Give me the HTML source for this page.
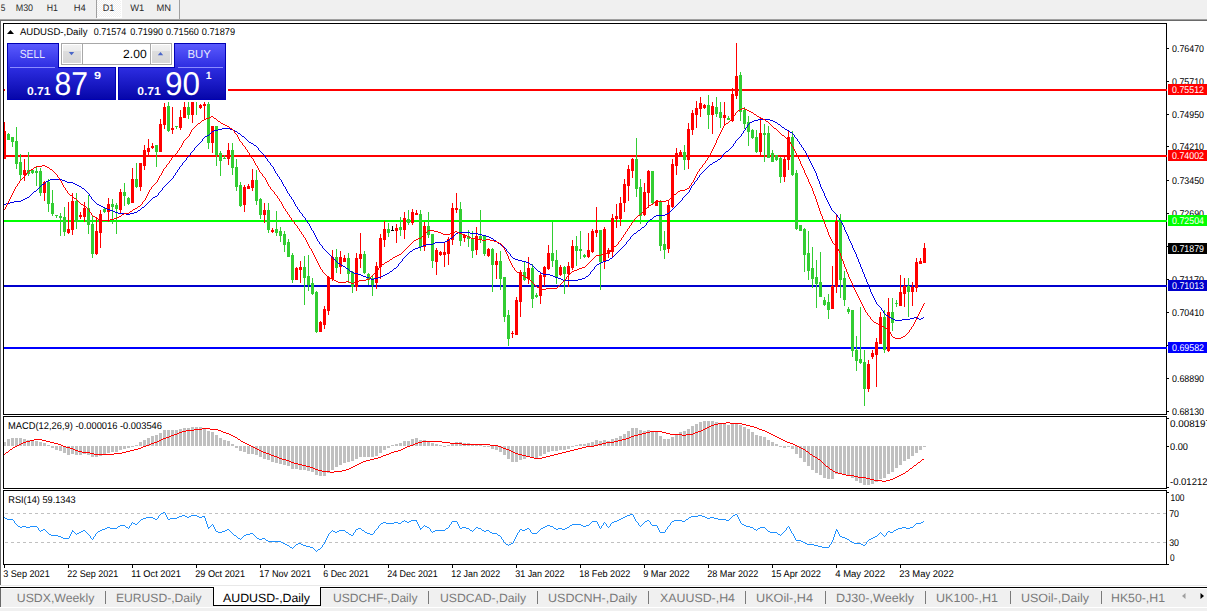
<!DOCTYPE html>
<html><head><meta charset="utf-8"><title>AUDUSD-,Daily</title>
<style>html,body{margin:0;padding:0;background:#fff;overflow:hidden;font-family:"Liberation Sans",sans-serif;} svg{display:block;} text{text-rendering:geometricPrecision;}</style>
</head><body>
<svg width="1207" height="611" viewBox="0 0 1207 611" font-family="Liberation Sans, sans-serif"><rect x="0" y="0" width="1207" height="611" fill="#ffffff"/>
<rect x="0" y="0" width="1207" height="19" fill="#f0f0f0"/>
<rect x="0" y="19" width="1207" height="1" fill="#a0a0a0"/>
<rect x="0" y="20" width="1207" height="1" fill="#696969"/>
<rect x="0" y="20" width="1" height="565" fill="#696969"/>
<g font-family="Liberation Sans" fill="#2b2b2b">
<defs><pattern id="chk" x="0" y="0" width="2" height="2" patternUnits="userSpaceOnUse"><rect width="2" height="2" fill="#f0f0f0"/><rect width="1" height="1" fill="#ffffff"/><rect x="1" y="1" width="1" height="1" fill="#ffffff"/></pattern></defs>
<g shape-rendering="crispEdges">
<rect x="97" y="0" width="24" height="17" fill="url(#chk)"/>
<rect x="96" y="17" width="26" height="1" fill="#ffffff"/>
<rect x="121" y="0" width="1" height="17" fill="#ffffff"/>
</g>
<text x="0.8" y="11" font-size="9.5" fill="#2b2b2b" textLength="4.6" lengthAdjust="spacingAndGlyphs">5</text>
<text x="15.7" y="11" font-size="9.5" fill="#2b2b2b" textLength="17.4" lengthAdjust="spacingAndGlyphs">M30</text>
<text x="46.8" y="11" font-size="9.5" fill="#2b2b2b" textLength="11.2" lengthAdjust="spacingAndGlyphs">H1</text>
<text x="73.7" y="11" font-size="9.5" fill="#2b2b2b" textLength="12" lengthAdjust="spacingAndGlyphs">H4</text>
<text x="102.7" y="11" font-size="9.5" fill="#2b2b2b" textLength="11.6" lengthAdjust="spacingAndGlyphs">D1</text>
<text x="130.2" y="11" font-size="9.5" fill="#2b2b2b" textLength="14" lengthAdjust="spacingAndGlyphs">W1</text>
<text x="156.5" y="11" font-size="9.5" fill="#2b2b2b" textLength="14.5" lengthAdjust="spacingAndGlyphs">MN</text>
</g>
<rect x="96" y="0" width="1" height="18" fill="#a0a0a0"/>
<rect x="179" y="0" width="1" height="19" fill="#a0a0a0"/>
<rect x="3" y="23" width="1164" height="1" fill="#000"/>
<rect x="3" y="414" width="1164" height="1" fill="#000"/>
<rect x="3" y="23" width="1" height="392" fill="#000"/>
<rect x="1166" y="23" width="1" height="392" fill="#000"/>
<rect x="3" y="416" width="1164" height="1" fill="#000"/>
<rect x="3" y="488" width="1164" height="1" fill="#000"/>
<rect x="3" y="416" width="1" height="73" fill="#000"/>
<rect x="1166" y="416" width="1" height="73" fill="#000"/>
<rect x="3" y="490" width="1164" height="1" fill="#000"/>
<rect x="3" y="564" width="1164" height="1" fill="#000"/>
<rect x="3" y="490" width="1" height="75" fill="#000"/>
<rect x="1166" y="490" width="1" height="75" fill="#000"/>
<defs><clipPath id="cm"><rect x="4" y="24" width="1162" height="390"/></clipPath><clipPath id="cmacd"><rect x="4" y="417" width="1162" height="71"/></clipPath><clipPath id="crsi"><rect x="4" y="491" width="1162" height="73"/></clipPath></defs>
<g shape-rendering="crispEdges">
<rect x="4" y="89" width="1163" height="2" fill="#ff0000"/>
<rect x="4" y="155" width="1163" height="2" fill="#ff0000"/>
<rect x="4" y="220" width="1163" height="2" fill="#00ff00"/>
<rect x="4" y="285" width="1163" height="2" fill="#0000cd"/>
<rect x="4" y="347" width="1163" height="2" fill="#0000ff"/>
</g>
<g clip-path="url(#cm)" shape-rendering="crispEdges">
<rect x="4" y="122" width="1" height="37" fill="#ff0000"/>
<rect x="3" y="131" width="3" height="28" fill="#ff0000"/>
<rect x="8" y="133" width="1" height="7" fill="#32cd32"/>
<rect x="7" y="134" width="3" height="6" fill="#32cd32"/>
<rect x="12" y="137" width="1" height="10" fill="#32cd32"/>
<rect x="11" y="137" width="3" height="5" fill="#32cd32"/>
<rect x="16" y="127" width="1" height="42" fill="#32cd32"/>
<rect x="15" y="141" width="3" height="23" fill="#32cd32"/>
<rect x="20" y="154" width="1" height="27" fill="#32cd32"/>
<rect x="19" y="162" width="3" height="13" fill="#32cd32"/>
<rect x="24" y="159" width="1" height="22" fill="#ff0000"/>
<rect x="23" y="170" width="3" height="5" fill="#ff0000"/>
<rect x="28" y="152" width="1" height="24" fill="#32cd32"/>
<rect x="27" y="170" width="3" height="4" fill="#32cd32"/>
<rect x="32" y="170" width="1" height="4" fill="#32cd32"/>
<rect x="31" y="170" width="3" height="3" fill="#32cd32"/>
<rect x="36" y="167" width="1" height="19" fill="#32cd32"/>
<rect x="35" y="171" width="3" height="2" fill="#32cd32"/>
<rect x="40" y="168" width="1" height="28" fill="#32cd32"/>
<rect x="39" y="171" width="3" height="22" fill="#32cd32"/>
<rect x="44" y="181" width="1" height="20" fill="#ff0000"/>
<rect x="43" y="182" width="3" height="11" fill="#ff0000"/>
<rect x="48" y="179" width="1" height="33" fill="#32cd32"/>
<rect x="47" y="182" width="3" height="22" fill="#32cd32"/>
<rect x="52" y="190" width="1" height="26" fill="#32cd32"/>
<rect x="51" y="203" width="3" height="11" fill="#32cd32"/>
<rect x="56" y="215" width="1" height="3" fill="#32cd32"/>
<rect x="55" y="215" width="3" height="1" fill="#32cd32"/>
<rect x="60" y="213" width="1" height="23" fill="#32cd32"/>
<rect x="59" y="216" width="3" height="2" fill="#32cd32"/>
<rect x="64" y="207" width="1" height="29" fill="#32cd32"/>
<rect x="63" y="217" width="3" height="15" fill="#32cd32"/>
<rect x="68" y="202" width="1" height="32" fill="#ff0000"/>
<rect x="67" y="229" width="3" height="4" fill="#ff0000"/>
<rect x="72" y="193" width="1" height="42" fill="#ff0000"/>
<rect x="71" y="201" width="3" height="29" fill="#ff0000"/>
<rect x="76" y="193" width="1" height="36" fill="#32cd32"/>
<rect x="75" y="201" width="3" height="21" fill="#32cd32"/>
<rect x="80" y="212" width="1" height="7" fill="#ff0000"/>
<rect x="79" y="215" width="3" height="2" fill="#ff0000"/>
<rect x="84" y="202" width="1" height="20" fill="#ff0000"/>
<rect x="83" y="208" width="3" height="9" fill="#ff0000"/>
<rect x="88" y="195" width="1" height="39" fill="#32cd32"/>
<rect x="87" y="208" width="3" height="17" fill="#32cd32"/>
<rect x="92" y="215" width="1" height="43" fill="#32cd32"/>
<rect x="91" y="224" width="3" height="30" fill="#32cd32"/>
<rect x="96" y="217" width="1" height="38" fill="#ff0000"/>
<rect x="95" y="231" width="3" height="23" fill="#ff0000"/>
<rect x="100" y="210" width="1" height="38" fill="#ff0000"/>
<rect x="99" y="214" width="3" height="19" fill="#ff0000"/>
<rect x="104" y="208" width="1" height="5" fill="#32cd32"/>
<rect x="103" y="209" width="3" height="3" fill="#32cd32"/>
<rect x="108" y="198" width="1" height="24" fill="#ff0000"/>
<rect x="107" y="204" width="3" height="8" fill="#ff0000"/>
<rect x="112" y="199" width="1" height="25" fill="#32cd32"/>
<rect x="111" y="204" width="3" height="3" fill="#32cd32"/>
<rect x="116" y="203" width="1" height="31" fill="#32cd32"/>
<rect x="115" y="205" width="3" height="4" fill="#32cd32"/>
<rect x="120" y="189" width="1" height="25" fill="#ff0000"/>
<rect x="119" y="192" width="3" height="18" fill="#ff0000"/>
<rect x="124" y="183" width="1" height="23" fill="#32cd32"/>
<rect x="123" y="192" width="3" height="4" fill="#32cd32"/>
<rect x="128" y="197" width="1" height="8" fill="#32cd32"/>
<rect x="127" y="198" width="3" height="6" fill="#32cd32"/>
<rect x="132" y="168" width="1" height="35" fill="#ff0000"/>
<rect x="131" y="179" width="3" height="24" fill="#ff0000"/>
<rect x="136" y="163" width="1" height="25" fill="#32cd32"/>
<rect x="135" y="179" width="3" height="8" fill="#32cd32"/>
<rect x="140" y="163" width="1" height="28" fill="#ff0000"/>
<rect x="139" y="163" width="3" height="24" fill="#ff0000"/>
<rect x="144" y="145" width="1" height="25" fill="#ff0000"/>
<rect x="143" y="150" width="3" height="16" fill="#ff0000"/>
<rect x="148" y="139" width="1" height="17" fill="#ff0000"/>
<rect x="147" y="148" width="3" height="4" fill="#ff0000"/>
<rect x="152" y="143" width="1" height="6" fill="#ff0000"/>
<rect x="151" y="146" width="3" height="2" fill="#ff0000"/>
<rect x="156" y="145" width="1" height="22" fill="#32cd32"/>
<rect x="155" y="145" width="3" height="7" fill="#32cd32"/>
<rect x="160" y="119" width="1" height="33" fill="#ff0000"/>
<rect x="159" y="124" width="3" height="28" fill="#ff0000"/>
<rect x="164" y="103" width="1" height="26" fill="#ff0000"/>
<rect x="163" y="107" width="3" height="18" fill="#ff0000"/>
<rect x="168" y="102" width="1" height="30" fill="#32cd32"/>
<rect x="167" y="106" width="3" height="25" fill="#32cd32"/>
<rect x="172" y="107" width="1" height="27" fill="#ff0000"/>
<rect x="171" y="128" width="3" height="2" fill="#ff0000"/>
<rect x="176" y="126" width="1" height="3" fill="#32cd32"/>
<rect x="175" y="126" width="3" height="1" fill="#32cd32"/>
<rect x="180" y="110" width="1" height="20" fill="#ff0000"/>
<rect x="179" y="117" width="3" height="11" fill="#ff0000"/>
<rect x="184" y="102" width="1" height="16" fill="#ff0000"/>
<rect x="183" y="107" width="3" height="11" fill="#ff0000"/>
<rect x="188" y="102" width="1" height="17" fill="#32cd32"/>
<rect x="187" y="107" width="3" height="8" fill="#32cd32"/>
<rect x="192" y="98" width="1" height="25" fill="#ff0000"/>
<rect x="191" y="100" width="3" height="15" fill="#ff0000"/>
<rect x="196" y="100" width="1" height="15" fill="#32cd32"/>
<rect x="195" y="100" width="3" height="2" fill="#32cd32"/>
<rect x="200" y="104" width="1" height="5" fill="#ff0000"/>
<rect x="199" y="105" width="3" height="3" fill="#ff0000"/>
<rect x="204" y="102" width="1" height="18" fill="#ff0000"/>
<rect x="203" y="104" width="3" height="2" fill="#ff0000"/>
<rect x="208" y="102" width="1" height="47" fill="#32cd32"/>
<rect x="207" y="104" width="3" height="39" fill="#32cd32"/>
<rect x="212" y="126" width="1" height="27" fill="#ff0000"/>
<rect x="211" y="126" width="3" height="17" fill="#ff0000"/>
<rect x="216" y="126" width="1" height="40" fill="#32cd32"/>
<rect x="215" y="126" width="3" height="29" fill="#32cd32"/>
<rect x="220" y="151" width="1" height="25" fill="#32cd32"/>
<rect x="219" y="153" width="3" height="8" fill="#32cd32"/>
<rect x="224" y="155" width="1" height="4" fill="#32cd32"/>
<rect x="223" y="158" width="3" height="1" fill="#32cd32"/>
<rect x="228" y="143" width="1" height="22" fill="#ff0000"/>
<rect x="227" y="150" width="3" height="9" fill="#ff0000"/>
<rect x="232" y="143" width="1" height="32" fill="#32cd32"/>
<rect x="231" y="150" width="3" height="18" fill="#32cd32"/>
<rect x="236" y="159" width="1" height="32" fill="#32cd32"/>
<rect x="235" y="167" width="3" height="20" fill="#32cd32"/>
<rect x="240" y="182" width="1" height="25" fill="#32cd32"/>
<rect x="239" y="185" width="3" height="21" fill="#32cd32"/>
<rect x="244" y="185" width="1" height="27" fill="#ff0000"/>
<rect x="243" y="187" width="3" height="18" fill="#ff0000"/>
<rect x="248" y="184" width="1" height="5" fill="#ff0000"/>
<rect x="247" y="186" width="3" height="3" fill="#ff0000"/>
<rect x="252" y="169" width="1" height="22" fill="#ff0000"/>
<rect x="251" y="180" width="3" height="8" fill="#ff0000"/>
<rect x="256" y="170" width="1" height="35" fill="#32cd32"/>
<rect x="255" y="180" width="3" height="21" fill="#32cd32"/>
<rect x="260" y="198" width="1" height="21" fill="#32cd32"/>
<rect x="259" y="199" width="3" height="16" fill="#32cd32"/>
<rect x="264" y="203" width="1" height="20" fill="#ff0000"/>
<rect x="263" y="210" width="3" height="5" fill="#ff0000"/>
<rect x="268" y="203" width="1" height="30" fill="#32cd32"/>
<rect x="267" y="210" width="3" height="20" fill="#32cd32"/>
<rect x="272" y="228" width="1" height="5" fill="#ff0000"/>
<rect x="271" y="230" width="3" height="2" fill="#ff0000"/>
<rect x="276" y="211" width="1" height="25" fill="#32cd32"/>
<rect x="275" y="229" width="3" height="4" fill="#32cd32"/>
<rect x="280" y="227" width="1" height="15" fill="#32cd32"/>
<rect x="279" y="231" width="3" height="5" fill="#32cd32"/>
<rect x="284" y="231" width="1" height="21" fill="#32cd32"/>
<rect x="283" y="234" width="3" height="11" fill="#32cd32"/>
<rect x="288" y="239" width="1" height="18" fill="#32cd32"/>
<rect x="287" y="242" width="3" height="15" fill="#32cd32"/>
<rect x="292" y="253" width="1" height="30" fill="#32cd32"/>
<rect x="291" y="255" width="3" height="25" fill="#32cd32"/>
<rect x="296" y="267" width="1" height="13" fill="#ff0000"/>
<rect x="295" y="268" width="3" height="12" fill="#ff0000"/>
<rect x="300" y="261" width="1" height="22" fill="#ff0000"/>
<rect x="299" y="267" width="3" height="3" fill="#ff0000"/>
<rect x="304" y="256" width="1" height="49" fill="#32cd32"/>
<rect x="303" y="267" width="3" height="11" fill="#32cd32"/>
<rect x="308" y="255" width="1" height="36" fill="#32cd32"/>
<rect x="307" y="276" width="3" height="9" fill="#32cd32"/>
<rect x="312" y="278" width="1" height="17" fill="#32cd32"/>
<rect x="311" y="283" width="3" height="11" fill="#32cd32"/>
<rect x="316" y="291" width="1" height="42" fill="#32cd32"/>
<rect x="315" y="292" width="3" height="40" fill="#32cd32"/>
<rect x="320" y="321" width="1" height="11" fill="#ff0000"/>
<rect x="319" y="322" width="3" height="10" fill="#ff0000"/>
<rect x="324" y="306" width="1" height="23" fill="#ff0000"/>
<rect x="323" y="309" width="3" height="16" fill="#ff0000"/>
<rect x="328" y="276" width="1" height="39" fill="#ff0000"/>
<rect x="327" y="277" width="3" height="34" fill="#ff0000"/>
<rect x="332" y="250" width="1" height="31" fill="#ff0000"/>
<rect x="331" y="257" width="3" height="22" fill="#ff0000"/>
<rect x="336" y="249" width="1" height="24" fill="#32cd32"/>
<rect x="335" y="257" width="3" height="11" fill="#32cd32"/>
<rect x="340" y="251" width="1" height="23" fill="#ff0000"/>
<rect x="339" y="257" width="3" height="10" fill="#ff0000"/>
<rect x="344" y="255" width="1" height="7" fill="#ff0000"/>
<rect x="343" y="258" width="3" height="4" fill="#ff0000"/>
<rect x="348" y="253" width="1" height="30" fill="#32cd32"/>
<rect x="347" y="258" width="3" height="16" fill="#32cd32"/>
<rect x="352" y="271" width="1" height="22" fill="#32cd32"/>
<rect x="351" y="272" width="3" height="15" fill="#32cd32"/>
<rect x="356" y="253" width="1" height="38" fill="#ff0000"/>
<rect x="355" y="258" width="3" height="29" fill="#ff0000"/>
<rect x="360" y="233" width="1" height="35" fill="#ff0000"/>
<rect x="359" y="254" width="3" height="5" fill="#ff0000"/>
<rect x="364" y="251" width="1" height="23" fill="#32cd32"/>
<rect x="363" y="254" width="3" height="19" fill="#32cd32"/>
<rect x="368" y="273" width="1" height="12" fill="#32cd32"/>
<rect x="367" y="274" width="3" height="6" fill="#32cd32"/>
<rect x="372" y="275" width="1" height="21" fill="#32cd32"/>
<rect x="371" y="278" width="3" height="7" fill="#32cd32"/>
<rect x="376" y="262" width="1" height="27" fill="#ff0000"/>
<rect x="375" y="266" width="3" height="17" fill="#ff0000"/>
<rect x="380" y="234" width="1" height="45" fill="#ff0000"/>
<rect x="379" y="238" width="3" height="29" fill="#ff0000"/>
<rect x="384" y="221" width="1" height="26" fill="#ff0000"/>
<rect x="383" y="229" width="3" height="11" fill="#ff0000"/>
<rect x="388" y="223" width="1" height="14" fill="#32cd32"/>
<rect x="387" y="229" width="3" height="4" fill="#32cd32"/>
<rect x="392" y="226" width="1" height="5" fill="#000000"/>
<rect x="391" y="230" width="3" height="1" fill="#000000"/>
<rect x="396" y="224" width="1" height="19" fill="#ff0000"/>
<rect x="395" y="228" width="3" height="3" fill="#ff0000"/>
<rect x="400" y="217" width="1" height="19" fill="#32cd32"/>
<rect x="399" y="227" width="3" height="3" fill="#32cd32"/>
<rect x="404" y="212" width="1" height="27" fill="#ff0000"/>
<rect x="403" y="218" width="3" height="12" fill="#ff0000"/>
<rect x="408" y="210" width="1" height="15" fill="#32cd32"/>
<rect x="407" y="219" width="3" height="4" fill="#32cd32"/>
<rect x="412" y="209" width="1" height="16" fill="#ff0000"/>
<rect x="411" y="212" width="3" height="11" fill="#ff0000"/>
<rect x="416" y="210" width="1" height="5" fill="#ff0000"/>
<rect x="415" y="213" width="3" height="2" fill="#ff0000"/>
<rect x="420" y="210" width="1" height="41" fill="#32cd32"/>
<rect x="419" y="214" width="3" height="33" fill="#32cd32"/>
<rect x="424" y="222" width="1" height="29" fill="#ff0000"/>
<rect x="423" y="226" width="3" height="21" fill="#ff0000"/>
<rect x="428" y="212" width="1" height="26" fill="#32cd32"/>
<rect x="427" y="226" width="3" height="9" fill="#32cd32"/>
<rect x="432" y="234" width="1" height="34" fill="#32cd32"/>
<rect x="431" y="234" width="3" height="27" fill="#32cd32"/>
<rect x="436" y="248" width="1" height="27" fill="#ff0000"/>
<rect x="435" y="250" width="3" height="12" fill="#ff0000"/>
<rect x="440" y="251" width="1" height="5" fill="#ff0000"/>
<rect x="439" y="252" width="3" height="3" fill="#ff0000"/>
<rect x="444" y="242" width="1" height="25" fill="#ff0000"/>
<rect x="443" y="252" width="3" height="3" fill="#ff0000"/>
<rect x="448" y="237" width="1" height="28" fill="#ff0000"/>
<rect x="447" y="239" width="3" height="15" fill="#ff0000"/>
<rect x="452" y="203" width="1" height="42" fill="#ff0000"/>
<rect x="451" y="208" width="3" height="32" fill="#ff0000"/>
<rect x="456" y="193" width="1" height="20" fill="#ff0000"/>
<rect x="455" y="208" width="3" height="2" fill="#ff0000"/>
<rect x="460" y="202" width="1" height="44" fill="#32cd32"/>
<rect x="459" y="209" width="3" height="32" fill="#32cd32"/>
<rect x="464" y="234" width="1" height="8" fill="#ff0000"/>
<rect x="463" y="235" width="3" height="3" fill="#ff0000"/>
<rect x="468" y="230" width="1" height="17" fill="#32cd32"/>
<rect x="467" y="236" width="3" height="3" fill="#32cd32"/>
<rect x="472" y="231" width="1" height="27" fill="#32cd32"/>
<rect x="471" y="238" width="3" height="13" fill="#32cd32"/>
<rect x="476" y="227" width="1" height="28" fill="#ff0000"/>
<rect x="475" y="236" width="3" height="14" fill="#ff0000"/>
<rect x="480" y="210" width="1" height="33" fill="#32cd32"/>
<rect x="479" y="236" width="3" height="3" fill="#32cd32"/>
<rect x="484" y="235" width="1" height="21" fill="#32cd32"/>
<rect x="483" y="236" width="3" height="18" fill="#32cd32"/>
<rect x="488" y="248" width="1" height="9" fill="#ff0000"/>
<rect x="487" y="249" width="3" height="7" fill="#ff0000"/>
<rect x="492" y="248" width="1" height="44" fill="#32cd32"/>
<rect x="491" y="249" width="3" height="16" fill="#32cd32"/>
<rect x="496" y="253" width="1" height="26" fill="#ff0000"/>
<rect x="495" y="261" width="3" height="4" fill="#ff0000"/>
<rect x="500" y="251" width="1" height="39" fill="#32cd32"/>
<rect x="499" y="261" width="3" height="18" fill="#32cd32"/>
<rect x="504" y="277" width="1" height="45" fill="#32cd32"/>
<rect x="503" y="277" width="3" height="40" fill="#32cd32"/>
<rect x="508" y="310" width="1" height="36" fill="#32cd32"/>
<rect x="507" y="315" width="3" height="24" fill="#32cd32"/>
<rect x="512" y="331" width="1" height="7" fill="#ff0000"/>
<rect x="511" y="333" width="3" height="1" fill="#ff0000"/>
<rect x="516" y="297" width="1" height="38" fill="#ff0000"/>
<rect x="515" y="300" width="3" height="35" fill="#ff0000"/>
<rect x="520" y="270" width="1" height="47" fill="#ff0000"/>
<rect x="519" y="272" width="3" height="30" fill="#ff0000"/>
<rect x="524" y="261" width="1" height="20" fill="#32cd32"/>
<rect x="523" y="272" width="3" height="8" fill="#32cd32"/>
<rect x="528" y="257" width="1" height="27" fill="#ff0000"/>
<rect x="527" y="268" width="3" height="11" fill="#ff0000"/>
<rect x="532" y="264" width="1" height="44" fill="#32cd32"/>
<rect x="531" y="268" width="3" height="31" fill="#32cd32"/>
<rect x="536" y="293" width="1" height="5" fill="#32cd32"/>
<rect x="535" y="295" width="3" height="2" fill="#32cd32"/>
<rect x="540" y="273" width="1" height="31" fill="#ff0000"/>
<rect x="539" y="275" width="3" height="21" fill="#ff0000"/>
<rect x="544" y="266" width="1" height="20" fill="#ff0000"/>
<rect x="543" y="267" width="3" height="10" fill="#ff0000"/>
<rect x="548" y="245" width="1" height="25" fill="#ff0000"/>
<rect x="547" y="253" width="3" height="16" fill="#ff0000"/>
<rect x="552" y="222" width="1" height="45" fill="#32cd32"/>
<rect x="551" y="253" width="3" height="8" fill="#32cd32"/>
<rect x="556" y="250" width="1" height="34" fill="#32cd32"/>
<rect x="555" y="260" width="3" height="18" fill="#32cd32"/>
<rect x="560" y="265" width="1" height="11" fill="#ff0000"/>
<rect x="559" y="267" width="3" height="8" fill="#ff0000"/>
<rect x="564" y="266" width="1" height="28" fill="#32cd32"/>
<rect x="563" y="267" width="3" height="7" fill="#32cd32"/>
<rect x="568" y="262" width="1" height="25" fill="#ff0000"/>
<rect x="567" y="266" width="3" height="8" fill="#ff0000"/>
<rect x="572" y="240" width="1" height="30" fill="#ff0000"/>
<rect x="571" y="246" width="3" height="22" fill="#ff0000"/>
<rect x="576" y="236" width="1" height="30" fill="#32cd32"/>
<rect x="575" y="246" width="3" height="5" fill="#32cd32"/>
<rect x="580" y="231" width="1" height="28" fill="#32cd32"/>
<rect x="579" y="249" width="3" height="2" fill="#32cd32"/>
<rect x="584" y="254" width="1" height="4" fill="#32cd32"/>
<rect x="583" y="255" width="3" height="2" fill="#32cd32"/>
<rect x="588" y="233" width="1" height="25" fill="#ff0000"/>
<rect x="587" y="250" width="3" height="7" fill="#ff0000"/>
<rect x="592" y="229" width="1" height="24" fill="#ff0000"/>
<rect x="591" y="231" width="3" height="21" fill="#ff0000"/>
<rect x="596" y="207" width="1" height="30" fill="#ff0000"/>
<rect x="595" y="230" width="3" height="3" fill="#ff0000"/>
<rect x="600" y="230" width="1" height="60" fill="#32cd32"/>
<rect x="599" y="230" width="3" height="32" fill="#32cd32"/>
<rect x="604" y="227" width="1" height="42" fill="#ff0000"/>
<rect x="603" y="229" width="3" height="32" fill="#ff0000"/>
<rect x="608" y="248" width="1" height="10" fill="#ff0000"/>
<rect x="607" y="250" width="3" height="4" fill="#ff0000"/>
<rect x="612" y="214" width="1" height="44" fill="#ff0000"/>
<rect x="611" y="218" width="3" height="34" fill="#ff0000"/>
<rect x="616" y="204" width="1" height="24" fill="#ff0000"/>
<rect x="615" y="216" width="3" height="3" fill="#ff0000"/>
<rect x="620" y="197" width="1" height="29" fill="#ff0000"/>
<rect x="619" y="203" width="3" height="16" fill="#ff0000"/>
<rect x="624" y="179" width="1" height="33" fill="#ff0000"/>
<rect x="623" y="184" width="3" height="19" fill="#ff0000"/>
<rect x="628" y="165" width="1" height="36" fill="#ff0000"/>
<rect x="627" y="169" width="3" height="17" fill="#ff0000"/>
<rect x="632" y="158" width="1" height="20" fill="#ff0000"/>
<rect x="631" y="159" width="3" height="12" fill="#ff0000"/>
<rect x="636" y="138" width="1" height="59" fill="#32cd32"/>
<rect x="635" y="159" width="3" height="30" fill="#32cd32"/>
<rect x="640" y="179" width="1" height="45" fill="#32cd32"/>
<rect x="639" y="187" width="3" height="29" fill="#32cd32"/>
<rect x="644" y="183" width="1" height="33" fill="#ff0000"/>
<rect x="643" y="192" width="3" height="23" fill="#ff0000"/>
<rect x="648" y="170" width="1" height="38" fill="#ff0000"/>
<rect x="647" y="171" width="3" height="22" fill="#ff0000"/>
<rect x="652" y="171" width="1" height="33" fill="#32cd32"/>
<rect x="651" y="171" width="3" height="32" fill="#32cd32"/>
<rect x="656" y="200" width="1" height="6" fill="#ff0000"/>
<rect x="655" y="201" width="3" height="5" fill="#ff0000"/>
<rect x="660" y="200" width="1" height="51" fill="#32cd32"/>
<rect x="659" y="201" width="3" height="45" fill="#32cd32"/>
<rect x="664" y="231" width="1" height="28" fill="#32cd32"/>
<rect x="663" y="244" width="3" height="6" fill="#32cd32"/>
<rect x="668" y="200" width="1" height="53" fill="#ff0000"/>
<rect x="667" y="205" width="3" height="44" fill="#ff0000"/>
<rect x="672" y="159" width="1" height="49" fill="#ff0000"/>
<rect x="671" y="164" width="3" height="43" fill="#ff0000"/>
<rect x="676" y="148" width="1" height="27" fill="#ff0000"/>
<rect x="675" y="153" width="3" height="13" fill="#ff0000"/>
<rect x="680" y="150" width="1" height="6" fill="#ff0000"/>
<rect x="679" y="152" width="3" height="3" fill="#ff0000"/>
<rect x="684" y="145" width="1" height="25" fill="#32cd32"/>
<rect x="683" y="152" width="3" height="8" fill="#32cd32"/>
<rect x="688" y="123" width="1" height="46" fill="#ff0000"/>
<rect x="687" y="129" width="3" height="31" fill="#ff0000"/>
<rect x="692" y="110" width="1" height="25" fill="#ff0000"/>
<rect x="691" y="113" width="3" height="17" fill="#ff0000"/>
<rect x="696" y="101" width="1" height="27" fill="#ff0000"/>
<rect x="695" y="108" width="3" height="7" fill="#ff0000"/>
<rect x="700" y="97" width="1" height="20" fill="#ff0000"/>
<rect x="699" y="103" width="3" height="6" fill="#ff0000"/>
<rect x="704" y="104" width="1" height="5" fill="#ff0000"/>
<rect x="703" y="105" width="3" height="3" fill="#ff0000"/>
<rect x="708" y="95" width="1" height="34" fill="#32cd32"/>
<rect x="707" y="105" width="3" height="10" fill="#32cd32"/>
<rect x="712" y="102" width="1" height="32" fill="#ff0000"/>
<rect x="711" y="106" width="3" height="9" fill="#ff0000"/>
<rect x="716" y="97" width="1" height="20" fill="#32cd32"/>
<rect x="715" y="107" width="3" height="7" fill="#32cd32"/>
<rect x="720" y="102" width="1" height="26" fill="#32cd32"/>
<rect x="719" y="112" width="3" height="6" fill="#32cd32"/>
<rect x="724" y="102" width="1" height="24" fill="#ff0000"/>
<rect x="723" y="115" width="3" height="3" fill="#ff0000"/>
<rect x="728" y="116" width="1" height="4" fill="#32cd32"/>
<rect x="727" y="118" width="3" height="2" fill="#32cd32"/>
<rect x="732" y="88" width="1" height="34" fill="#ff0000"/>
<rect x="731" y="94" width="3" height="27" fill="#ff0000"/>
<rect x="736" y="43" width="1" height="56" fill="#ff0000"/>
<rect x="735" y="76" width="3" height="20" fill="#ff0000"/>
<rect x="740" y="72" width="1" height="49" fill="#32cd32"/>
<rect x="739" y="75" width="3" height="37" fill="#32cd32"/>
<rect x="744" y="107" width="1" height="22" fill="#32cd32"/>
<rect x="743" y="110" width="3" height="14" fill="#32cd32"/>
<rect x="748" y="116" width="1" height="30" fill="#32cd32"/>
<rect x="747" y="122" width="3" height="10" fill="#32cd32"/>
<rect x="752" y="129" width="1" height="10" fill="#32cd32"/>
<rect x="751" y="130" width="3" height="8" fill="#32cd32"/>
<rect x="756" y="130" width="1" height="23" fill="#32cd32"/>
<rect x="755" y="137" width="3" height="15" fill="#32cd32"/>
<rect x="760" y="117" width="1" height="39" fill="#ff0000"/>
<rect x="759" y="133" width="3" height="19" fill="#ff0000"/>
<rect x="764" y="124" width="1" height="38" fill="#32cd32"/>
<rect x="763" y="133" width="3" height="2" fill="#32cd32"/>
<rect x="768" y="126" width="1" height="32" fill="#32cd32"/>
<rect x="767" y="133" width="3" height="25" fill="#32cd32"/>
<rect x="772" y="150" width="1" height="12" fill="#32cd32"/>
<rect x="771" y="153" width="3" height="9" fill="#32cd32"/>
<rect x="776" y="155" width="1" height="6" fill="#32cd32"/>
<rect x="775" y="155" width="3" height="5" fill="#32cd32"/>
<rect x="780" y="157" width="1" height="26" fill="#32cd32"/>
<rect x="779" y="158" width="3" height="19" fill="#32cd32"/>
<rect x="784" y="157" width="1" height="25" fill="#ff0000"/>
<rect x="783" y="159" width="3" height="18" fill="#ff0000"/>
<rect x="788" y="131" width="1" height="39" fill="#ff0000"/>
<rect x="787" y="137" width="3" height="23" fill="#ff0000"/>
<rect x="792" y="131" width="1" height="45" fill="#32cd32"/>
<rect x="791" y="137" width="3" height="38" fill="#32cd32"/>
<rect x="796" y="170" width="1" height="60" fill="#32cd32"/>
<rect x="795" y="173" width="3" height="56" fill="#32cd32"/>
<rect x="800" y="225" width="1" height="6" fill="#32cd32"/>
<rect x="799" y="225" width="3" height="6" fill="#32cd32"/>
<rect x="804" y="228" width="1" height="44" fill="#32cd32"/>
<rect x="803" y="229" width="3" height="26" fill="#32cd32"/>
<rect x="808" y="231" width="1" height="49" fill="#32cd32"/>
<rect x="807" y="253" width="3" height="18" fill="#32cd32"/>
<rect x="812" y="247" width="1" height="41" fill="#32cd32"/>
<rect x="811" y="268" width="3" height="11" fill="#32cd32"/>
<rect x="816" y="260" width="1" height="48" fill="#32cd32"/>
<rect x="815" y="277" width="3" height="7" fill="#32cd32"/>
<rect x="820" y="252" width="1" height="45" fill="#32cd32"/>
<rect x="819" y="282" width="3" height="15" fill="#32cd32"/>
<rect x="824" y="297" width="1" height="9" fill="#32cd32"/>
<rect x="823" y="300" width="3" height="5" fill="#32cd32"/>
<rect x="828" y="294" width="1" height="25" fill="#32cd32"/>
<rect x="827" y="302" width="3" height="8" fill="#32cd32"/>
<rect x="832" y="266" width="1" height="43" fill="#ff0000"/>
<rect x="831" y="286" width="3" height="23" fill="#ff0000"/>
<rect x="836" y="215" width="1" height="78" fill="#ff0000"/>
<rect x="835" y="221" width="3" height="66" fill="#ff0000"/>
<rect x="840" y="214" width="1" height="84" fill="#32cd32"/>
<rect x="839" y="221" width="3" height="59" fill="#32cd32"/>
<rect x="844" y="271" width="1" height="35" fill="#32cd32"/>
<rect x="843" y="278" width="3" height="22" fill="#32cd32"/>
<rect x="848" y="307" width="1" height="7" fill="#32cd32"/>
<rect x="847" y="309" width="3" height="3" fill="#32cd32"/>
<rect x="852" y="310" width="1" height="47" fill="#32cd32"/>
<rect x="851" y="310" width="3" height="41" fill="#32cd32"/>
<rect x="856" y="336" width="1" height="35" fill="#32cd32"/>
<rect x="855" y="350" width="3" height="11" fill="#32cd32"/>
<rect x="860" y="307" width="1" height="57" fill="#32cd32"/>
<rect x="859" y="359" width="3" height="4" fill="#32cd32"/>
<rect x="864" y="350" width="1" height="56" fill="#32cd32"/>
<rect x="863" y="362" width="3" height="27" fill="#32cd32"/>
<rect x="868" y="360" width="1" height="32" fill="#ff0000"/>
<rect x="867" y="364" width="3" height="25" fill="#ff0000"/>
<rect x="872" y="350" width="1" height="9" fill="#ff0000"/>
<rect x="871" y="353" width="3" height="4" fill="#ff0000"/>
<rect x="876" y="338" width="1" height="49" fill="#ff0000"/>
<rect x="875" y="342" width="3" height="13" fill="#ff0000"/>
<rect x="880" y="312" width="1" height="32" fill="#ff0000"/>
<rect x="879" y="317" width="3" height="27" fill="#ff0000"/>
<rect x="884" y="310" width="1" height="43" fill="#32cd32"/>
<rect x="883" y="317" width="3" height="33" fill="#32cd32"/>
<rect x="888" y="298" width="1" height="54" fill="#ff0000"/>
<rect x="887" y="312" width="3" height="39" fill="#ff0000"/>
<rect x="892" y="298" width="1" height="33" fill="#32cd32"/>
<rect x="891" y="312" width="3" height="11" fill="#32cd32"/>
<rect x="896" y="300" width="1" height="7" fill="#32cd32"/>
<rect x="895" y="303" width="3" height="1" fill="#32cd32"/>
<rect x="900" y="275" width="1" height="31" fill="#ff0000"/>
<rect x="899" y="292" width="3" height="14" fill="#ff0000"/>
<rect x="904" y="278" width="1" height="29" fill="#ff0000"/>
<rect x="903" y="286" width="3" height="8" fill="#ff0000"/>
<rect x="908" y="278" width="1" height="39" fill="#32cd32"/>
<rect x="907" y="286" width="3" height="6" fill="#32cd32"/>
<rect x="912" y="282" width="1" height="24" fill="#ff0000"/>
<rect x="911" y="287" width="3" height="5" fill="#ff0000"/>
<rect x="916" y="258" width="1" height="34" fill="#ff0000"/>
<rect x="915" y="262" width="3" height="26" fill="#ff0000"/>
<rect x="920" y="258" width="1" height="6" fill="#ff0000"/>
<rect x="919" y="261" width="3" height="3" fill="#ff0000"/>
<rect x="924" y="243" width="1" height="20" fill="#ff0000"/>
<rect x="923" y="248" width="3" height="15" fill="#ff0000"/>
</g>
<path d="M758 119h12v1h-12zM754 120h4v1h-4zM770 120h3v1h-3zM752 121h2v1h-2zM773 121h2v1h-2zM750 122h2v1h-2zM775 122h2v1h-2zM749 123h1v1h-1zM777 123h1v1h-1zM748 124h1v1h-1zM778 124h2v1h-2zM747 125h1v1h-1zM780 125h1v1h-1zM747 126h1v1h-1zM781 126h1v1h-1zM746 127h1v1h-1zM782 127h2v1h-2zM222 128h8v1h-8zM745 128h1v1h-1zM784 128h1v1h-1zM218 129h4v1h-4zM230 129h3v1h-3zM745 129h1v1h-1zM785 129h2v1h-2zM214 130h4v1h-4zM233 130h2v1h-2zM744 130h1v1h-1zM787 130h2v1h-2zM212 131h2v1h-2zM235 131h2v1h-2zM743 131h1v1h-1zM789 131h1v1h-1zM211 132h1v1h-1zM237 132h1v1h-1zM743 132h1v1h-1zM790 132h2v1h-2zM210 133h1v1h-1zM238 133h2v1h-2zM742 133h1v1h-1zM792 133h1v1h-1zM209 134h1v1h-1zM240 134h1v1h-1zM741 134h1v1h-1zM793 134h1v1h-1zM207 135h2v1h-2zM241 135h1v1h-1zM741 135h1v1h-1zM794 135h1v1h-1zM205 136h2v1h-2zM242 136h2v1h-2zM740 136h1v1h-1zM794 136h1v1h-1zM204 137h1v1h-1zM244 137h1v1h-1zM739 137h1v1h-1zM795 137h1v1h-1zM203 138h1v1h-1zM245 138h1v1h-1zM738 138h1v1h-1zM796 138h1v1h-1zM202 139h1v1h-1zM246 139h1v1h-1zM737 139h1v1h-1zM797 139h1v1h-1zM202 140h1v1h-1zM247 140h1v1h-1zM736 140h1v1h-1zM797 140h1v1h-1zM201 141h1v1h-1zM248 141h1v1h-1zM735 141h1v1h-1zM798 141h1v1h-1zM200 142h1v1h-1zM249 142h2v1h-2zM735 142h1v1h-1zM799 142h1v1h-1zM199 143h1v1h-1zM251 143h2v1h-2zM734 143h1v1h-1zM799 143h1v1h-1zM198 144h1v1h-1zM253 144h1v1h-1zM733 144h1v1h-1zM800 144h1v1h-1zM197 145h1v1h-1zM254 145h2v1h-2zM733 145h1v1h-1zM801 145h1v1h-1zM196 146h1v1h-1zM256 146h1v1h-1zM732 146h1v1h-1zM801 146h1v1h-1zM195 147h1v1h-1zM257 147h1v1h-1zM731 147h1v1h-1zM802 147h1v1h-1zM194 148h1v1h-1zM258 148h1v1h-1zM730 148h1v1h-1zM803 148h1v1h-1zM194 149h1v1h-1zM258 149h1v1h-1zM729 149h1v1h-1zM803 149h1v1h-1zM193 150h1v1h-1zM259 150h1v1h-1zM728 150h1v1h-1zM804 150h1v1h-1zM192 151h1v1h-1zM260 151h1v1h-1zM726 151h2v1h-2zM805 151h1v1h-1zM191 152h1v1h-1zM261 152h1v1h-1zM725 152h1v1h-1zM805 152h1v1h-1zM190 153h1v1h-1zM262 153h1v1h-1zM724 153h1v1h-1zM806 153h1v1h-1zM190 154h1v1h-1zM263 154h1v1h-1zM723 154h1v1h-1zM806 154h1v1h-1zM189 155h1v1h-1zM264 155h1v1h-1zM722 155h1v1h-1zM807 155h1v1h-1zM188 156h1v1h-1zM265 156h1v1h-1zM722 156h1v1h-1zM807 156h1v1h-1zM187 157h1v1h-1zM265 157h1v1h-1zM721 157h1v1h-1zM808 157h1v1h-1zM186 158h1v1h-1zM266 158h1v1h-1zM720 158h1v1h-1zM808 158h1v1h-1zM186 159h1v1h-1zM267 159h1v1h-1zM718 159h2v1h-2zM809 159h1v1h-1zM185 160h1v1h-1zM267 160h1v1h-1zM717 160h1v1h-1zM809 160h1v1h-1zM184 161h1v1h-1zM268 161h1v1h-1zM715 161h2v1h-2zM810 161h1v1h-1zM183 162h1v1h-1zM269 162h1v1h-1zM713 162h2v1h-2zM810 162h1v1h-1zM182 163h1v1h-1zM270 163h1v1h-1zM712 163h1v1h-1zM811 163h1v1h-1zM182 164h1v1h-1zM270 164h1v1h-1zM710 164h2v1h-2zM811 164h1v1h-1zM181 165h1v1h-1zM271 165h1v1h-1zM709 165h1v1h-1zM812 165h1v1h-1zM180 166h1v1h-1zM272 166h1v1h-1zM708 166h1v1h-1zM812 166h1v1h-1zM179 167h1v1h-1zM273 167h1v1h-1zM707 167h1v1h-1zM813 167h1v1h-1zM179 168h1v1h-1zM273 168h1v1h-1zM706 168h1v1h-1zM813 168h1v1h-1zM178 169h1v1h-1zM274 169h1v1h-1zM705 169h1v1h-1zM814 169h1v1h-1zM177 170h1v1h-1zM274 170h1v1h-1zM704 170h1v1h-1zM814 170h1v1h-1zM177 171h1v1h-1zM275 171h1v1h-1zM703 171h1v1h-1zM815 171h1v1h-1zM176 172h1v1h-1zM275 172h1v1h-1zM702 172h1v1h-1zM815 172h1v1h-1zM175 173h1v1h-1zM276 173h1v1h-1zM701 173h1v1h-1zM816 173h1v1h-1zM175 174h1v1h-1zM277 174h1v1h-1zM700 174h1v1h-1zM816 174h1v1h-1zM174 175h1v1h-1zM277 175h1v1h-1zM699 175h1v1h-1zM816 175h1v1h-1zM173 176h1v1h-1zM278 176h1v1h-1zM699 176h1v1h-1zM817 176h1v1h-1zM173 177h1v1h-1zM279 177h1v1h-1zM698 177h1v1h-1zM817 177h1v1h-1zM172 178h1v1h-1zM279 178h1v1h-1zM697 178h1v1h-1zM817 178h1v1h-1zM50 179h12v1h-12zM171 179h1v1h-1zM280 179h1v1h-1zM697 179h1v1h-1zM818 179h1v1h-1zM48 180h2v1h-2zM62 180h3v1h-3zM170 180h1v1h-1zM281 180h1v1h-1zM696 180h1v1h-1zM818 180h1v1h-1zM46 181h2v1h-2zM65 181h2v1h-2zM169 181h1v1h-1zM281 181h1v1h-1zM695 181h1v1h-1zM819 181h1v1h-1zM45 182h1v1h-1zM67 182h6v1h-6zM168 182h1v1h-1zM282 182h1v1h-1zM694 182h1v1h-1zM819 182h1v1h-1zM44 183h1v1h-1zM73 183h2v1h-2zM167 183h1v1h-1zM282 183h1v1h-1zM694 183h1v1h-1zM819 183h1v1h-1zM42 184h2v1h-2zM75 184h2v1h-2zM166 184h1v1h-1zM283 184h1v1h-1zM693 184h1v1h-1zM820 184h1v1h-1zM41 185h1v1h-1zM77 185h2v1h-2zM165 185h1v1h-1zM283 185h1v1h-1zM692 185h1v1h-1zM820 185h1v1h-1zM40 186h1v1h-1zM79 186h2v1h-2zM164 186h1v1h-1zM284 186h1v1h-1zM691 186h1v1h-1zM820 186h1v1h-1zM39 187h1v1h-1zM81 187h1v1h-1zM163 187h1v1h-1zM285 187h1v1h-1zM691 187h1v1h-1zM821 187h1v1h-1zM38 188h1v1h-1zM82 188h2v1h-2zM162 188h1v1h-1zM285 188h1v1h-1zM690 188h1v1h-1zM821 188h1v1h-1zM37 189h1v1h-1zM84 189h1v1h-1zM162 189h1v1h-1zM286 189h1v1h-1zM690 189h1v1h-1zM822 189h1v1h-1zM36 190h1v1h-1zM85 190h1v1h-1zM161 190h1v1h-1zM286 190h1v1h-1zM689 190h1v1h-1zM822 190h1v1h-1zM34 191h2v1h-2zM86 191h1v1h-1zM160 191h1v1h-1zM287 191h1v1h-1zM689 191h1v1h-1zM823 191h1v1h-1zM33 192h1v1h-1zM87 192h1v1h-1zM159 192h1v1h-1zM287 192h1v1h-1zM688 192h1v1h-1zM823 192h1v1h-1zM32 193h1v1h-1zM88 193h1v1h-1zM158 193h1v1h-1zM288 193h1v1h-1zM687 193h1v1h-1zM824 193h1v1h-1zM31 194h1v1h-1zM89 194h1v1h-1zM158 194h1v1h-1zM289 194h1v1h-1zM686 194h1v1h-1zM824 194h1v1h-1zM30 195h1v1h-1zM89 195h1v1h-1zM157 195h1v1h-1zM289 195h1v1h-1zM685 195h1v1h-1zM824 195h1v1h-1zM29 196h1v1h-1zM90 196h1v1h-1zM155 196h2v1h-2zM290 196h1v1h-1zM684 196h1v1h-1zM825 196h1v1h-1zM27 197h2v1h-2zM91 197h1v1h-1zM153 197h2v1h-2zM291 197h1v1h-1zM683 197h1v1h-1zM825 197h1v1h-1zM25 198h2v1h-2zM91 198h1v1h-1zM152 198h1v1h-1zM291 198h1v1h-1zM682 198h1v1h-1zM826 198h1v1h-1zM23 199h2v1h-2zM92 199h1v1h-1zM151 199h1v1h-1zM292 199h1v1h-1zM682 199h1v1h-1zM826 199h1v1h-1zM21 200h2v1h-2zM93 200h1v1h-1zM150 200h1v1h-1zM293 200h1v1h-1zM681 200h1v1h-1zM827 200h1v1h-1zM14 201h7v1h-7zM94 201h1v1h-1zM149 201h1v1h-1zM293 201h1v1h-1zM680 201h1v1h-1zM827 201h1v1h-1zM10 202h4v1h-4zM95 202h1v1h-1zM148 202h1v1h-1zM294 202h1v1h-1zM679 202h1v1h-1zM828 202h1v1h-1zM6 203h4v1h-4zM96 203h1v1h-1zM147 203h1v1h-1zM294 203h1v1h-1zM678 203h1v1h-1zM828 203h1v1h-1zM4 204h2v1h-2zM97 204h2v1h-2zM146 204h1v1h-1zM295 204h1v1h-1zM677 204h1v1h-1zM829 204h1v1h-1zM99 205h2v1h-2zM145 205h1v1h-1zM295 205h1v1h-1zM676 205h1v1h-1zM829 205h1v1h-1zM101 206h2v1h-2zM144 206h1v1h-1zM296 206h1v1h-1zM675 206h1v1h-1zM830 206h1v1h-1zM103 207h2v1h-2zM142 207h2v1h-2zM297 207h1v1h-1zM674 207h1v1h-1zM830 207h1v1h-1zM105 208h2v1h-2zM141 208h1v1h-1zM297 208h1v1h-1zM673 208h1v1h-1zM831 208h1v1h-1zM107 209h3v1h-3zM140 209h1v1h-1zM298 209h1v1h-1zM672 209h1v1h-1zM831 209h1v1h-1zM110 210h3v1h-3zM138 210h2v1h-2zM299 210h1v1h-1zM671 210h1v1h-1zM832 210h1v1h-1zM113 211h2v1h-2zM137 211h1v1h-1zM299 211h1v1h-1zM670 211h1v1h-1zM833 211h1v1h-1zM115 212h3v1h-3zM134 212h3v1h-3zM300 212h1v1h-1zM669 212h1v1h-1zM834 212h1v1h-1zM118 213h8v1h-8zM130 213h4v1h-4zM301 213h1v1h-1zM667 213h2v1h-2zM835 213h1v1h-1zM126 214h4v1h-4zM302 214h1v1h-1zM665 214h2v1h-2zM836 214h1v1h-1zM302 215h1v1h-1zM656 215h9v1h-9zM837 215h1v1h-1zM303 216h1v1h-1zM654 216h2v1h-2zM837 216h1v1h-1zM304 217h1v1h-1zM653 217h1v1h-1zM838 217h1v1h-1zM305 218h1v1h-1zM652 218h1v1h-1zM839 218h1v1h-1zM305 219h1v1h-1zM650 219h2v1h-2zM839 219h1v1h-1zM306 220h1v1h-1zM649 220h1v1h-1zM840 220h1v1h-1zM307 221h1v1h-1zM648 221h1v1h-1zM841 221h1v1h-1zM307 222h1v1h-1zM647 222h1v1h-1zM841 222h1v1h-1zM308 223h1v1h-1zM646 223h1v1h-1zM842 223h1v1h-1zM309 224h1v1h-1zM646 224h1v1h-1zM842 224h1v1h-1zM309 225h1v1h-1zM645 225h1v1h-1zM843 225h1v1h-1zM310 226h1v1h-1zM644 226h1v1h-1zM843 226h1v1h-1zM310 227h1v1h-1zM642 227h2v1h-2zM844 227h1v1h-1zM311 228h1v1h-1zM641 228h1v1h-1zM844 228h1v1h-1zM311 229h1v1h-1zM640 229h1v1h-1zM844 229h1v1h-1zM312 230h1v1h-1zM638 230h2v1h-2zM845 230h1v1h-1zM313 231h1v1h-1zM637 231h1v1h-1zM845 231h1v1h-1zM313 232h1v1h-1zM458 232h12v1h-12zM636 232h1v1h-1zM846 232h1v1h-1zM314 233h1v1h-1zM456 233h2v1h-2zM470 233h8v1h-8zM634 233h2v1h-2zM846 233h1v1h-1zM314 234h1v1h-1zM455 234h1v1h-1zM478 234h4v1h-4zM633 234h1v1h-1zM847 234h1v1h-1zM315 235h1v1h-1zM454 235h1v1h-1zM482 235h4v1h-4zM632 235h1v1h-1zM847 235h1v1h-1zM315 236h1v1h-1zM453 236h1v1h-1zM486 236h3v1h-3zM631 236h1v1h-1zM848 236h1v1h-1zM316 237h1v1h-1zM452 237h1v1h-1zM489 237h2v1h-2zM630 237h1v1h-1zM848 237h1v1h-1zM316 238h1v1h-1zM450 238h2v1h-2zM491 238h2v1h-2zM630 238h1v1h-1zM848 238h1v1h-1zM317 239h1v1h-1zM449 239h1v1h-1zM493 239h1v1h-1zM629 239h1v1h-1zM849 239h1v1h-1zM317 240h1v1h-1zM447 240h2v1h-2zM494 240h2v1h-2zM628 240h1v1h-1zM849 240h1v1h-1zM318 241h1v1h-1zM445 241h2v1h-2zM496 241h1v1h-1zM627 241h1v1h-1zM850 241h1v1h-1zM319 242h1v1h-1zM435 242h10v1h-10zM497 242h1v1h-1zM626 242h1v1h-1zM850 242h1v1h-1zM319 243h1v1h-1zM433 243h2v1h-2zM498 243h2v1h-2zM626 243h1v1h-1zM851 243h1v1h-1zM320 244h1v1h-1zM426 244h7v1h-7zM500 244h1v1h-1zM625 244h1v1h-1zM851 244h1v1h-1zM321 245h1v1h-1zM423 245h3v1h-3zM501 245h1v1h-1zM624 245h1v1h-1zM852 245h1v1h-1zM322 246h1v1h-1zM421 246h2v1h-2zM502 246h2v1h-2zM623 246h1v1h-1zM852 246h1v1h-1zM322 247h1v1h-1zM418 247h3v1h-3zM504 247h1v1h-1zM622 247h1v1h-1zM852 247h1v1h-1zM323 248h1v1h-1zM415 248h3v1h-3zM505 248h1v1h-1zM621 248h1v1h-1zM853 248h1v1h-1zM324 249h1v1h-1zM413 249h2v1h-2zM506 249h1v1h-1zM620 249h1v1h-1zM853 249h1v1h-1zM325 250h1v1h-1zM412 250h1v1h-1zM506 250h1v1h-1zM619 250h1v1h-1zM854 250h1v1h-1zM326 251h1v1h-1zM410 251h2v1h-2zM507 251h1v1h-1zM618 251h1v1h-1zM854 251h1v1h-1zM327 252h1v1h-1zM409 252h1v1h-1zM508 252h1v1h-1zM617 252h1v1h-1zM855 252h1v1h-1zM328 253h1v1h-1zM408 253h1v1h-1zM509 253h1v1h-1zM616 253h1v1h-1zM855 253h1v1h-1zM329 254h1v1h-1zM407 254h1v1h-1zM510 254h1v1h-1zM615 254h1v1h-1zM856 254h1v1h-1zM330 255h1v1h-1zM406 255h1v1h-1zM510 255h1v1h-1zM614 255h1v1h-1zM856 255h1v1h-1zM331 256h1v1h-1zM405 256h1v1h-1zM511 256h1v1h-1zM613 256h1v1h-1zM856 256h1v1h-1zM332 257h1v1h-1zM404 257h1v1h-1zM512 257h1v1h-1zM612 257h1v1h-1zM857 257h1v1h-1zM333 258h1v1h-1zM403 258h1v1h-1zM513 258h2v1h-2zM610 258h2v1h-2zM857 258h1v1h-1zM334 259h1v1h-1zM402 259h1v1h-1zM515 259h3v1h-3zM609 259h1v1h-1zM858 259h1v1h-1zM335 260h1v1h-1zM402 260h1v1h-1zM518 260h4v1h-4zM606 260h3v1h-3zM858 260h1v1h-1zM336 261h1v1h-1zM401 261h1v1h-1zM522 261h4v1h-4zM603 261h3v1h-3zM858 261h1v1h-1zM337 262h1v1h-1zM400 262h1v1h-1zM526 262h3v1h-3zM601 262h2v1h-2zM859 262h1v1h-1zM338 263h2v1h-2zM399 263h1v1h-1zM529 263h1v1h-1zM599 263h2v1h-2zM859 263h1v1h-1zM340 264h1v1h-1zM398 264h1v1h-1zM530 264h2v1h-2zM597 264h2v1h-2zM860 264h1v1h-1zM341 265h2v1h-2zM398 265h1v1h-1zM532 265h1v1h-1zM596 265h1v1h-1zM860 265h1v1h-1zM343 266h2v1h-2zM397 266h1v1h-1zM533 266h1v1h-1zM595 266h1v1h-1zM860 266h1v1h-1zM345 267h1v1h-1zM396 267h1v1h-1zM534 267h1v1h-1zM594 267h1v1h-1zM861 267h1v1h-1zM346 268h2v1h-2zM394 268h2v1h-2zM535 268h1v1h-1zM594 268h1v1h-1zM861 268h1v1h-1zM348 269h1v1h-1zM393 269h1v1h-1zM536 269h1v1h-1zM593 269h1v1h-1zM862 269h1v1h-1zM349 270h1v1h-1zM392 270h1v1h-1zM537 270h1v1h-1zM592 270h1v1h-1zM862 270h1v1h-1zM350 271h2v1h-2zM390 271h2v1h-2zM538 271h2v1h-2zM591 271h1v1h-1zM862 271h1v1h-1zM352 272h2v1h-2zM389 272h1v1h-1zM540 272h1v1h-1zM590 272h1v1h-1zM863 272h1v1h-1zM354 273h4v1h-4zM387 273h2v1h-2zM541 273h2v1h-2zM590 273h1v1h-1zM863 273h1v1h-1zM358 274h3v1h-3zM385 274h2v1h-2zM543 274h7v1h-7zM589 274h1v1h-1zM864 274h1v1h-1zM361 275h2v1h-2zM383 275h2v1h-2zM550 275h3v1h-3zM588 275h1v1h-1zM864 275h1v1h-1zM363 276h3v1h-3zM381 276h2v1h-2zM553 276h2v1h-2zM586 276h2v1h-2zM864 276h1v1h-1zM366 277h3v1h-3zM378 277h3v1h-3zM555 277h3v1h-3zM585 277h1v1h-1zM865 277h1v1h-1zM369 278h2v1h-2zM374 278h4v1h-4zM558 278h3v1h-3zM582 278h3v1h-3zM865 278h1v1h-1zM371 279h3v1h-3zM561 279h2v1h-2zM578 279h4v1h-4zM866 279h1v1h-1zM563 280h15v1h-15zM866 280h1v1h-1zM866 281h1v1h-1zM867 282h1v1h-1zM867 283h1v1h-1zM868 284h1v1h-1zM868 285h1v1h-1zM868 286h1v1h-1zM869 287h1v1h-1zM869 288h1v1h-1zM870 289h1v1h-1zM870 290h1v1h-1zM870 291h1v1h-1zM871 292h1v1h-1zM871 293h1v1h-1zM872 294h1v1h-1zM872 295h1v1h-1zM873 296h1v1h-1zM873 297h1v1h-1zM874 298h1v1h-1zM874 299h1v1h-1zM875 300h1v1h-1zM875 301h1v1h-1zM876 302h1v1h-1zM876 303h1v1h-1zM877 304h1v1h-1zM878 305h1v1h-1zM879 306h1v1h-1zM880 307h1v1h-1zM881 308h1v1h-1zM881 309h1v1h-1zM882 310h1v1h-1zM883 311h1v1h-1zM883 312h1v1h-1zM884 313h1v1h-1zM885 314h1v1h-1zM886 315h2v1h-2zM888 316h1v1h-1zM889 317h2v1h-2zM914 317h3v1h-3zM923 317h1v1h-1zM891 318h2v1h-2zM910 318h4v1h-4zM917 318h2v1h-2zM921 318h2v1h-2zM893 319h2v1h-2zM902 319h8v1h-8zM919 319h2v1h-2zM895 320h7v1h-7z" fill="#0000e6" shape-rendering="crispEdges"/>
<path d="M742 108h3v1h-3zM740 109h2v1h-2zM745 109h2v1h-2zM738 110h2v1h-2zM747 110h2v1h-2zM737 111h1v1h-1zM749 111h2v1h-2zM736 112h1v1h-1zM751 112h2v1h-2zM735 113h1v1h-1zM753 113h1v1h-1zM735 114h1v1h-1zM754 114h2v1h-2zM734 115h1v1h-1zM756 115h1v1h-1zM211 116h2v1h-2zM733 116h1v1h-1zM757 116h2v1h-2zM209 117h2v1h-2zM213 117h1v1h-1zM733 117h1v1h-1zM759 117h2v1h-2zM206 118h3v1h-3zM214 118h2v1h-2zM732 118h1v1h-1zM761 118h2v1h-2zM204 119h2v1h-2zM216 119h1v1h-1zM731 119h1v1h-1zM763 119h2v1h-2zM202 120h2v1h-2zM217 120h1v1h-1zM730 120h1v1h-1zM765 120h1v1h-1zM201 121h1v1h-1zM218 121h2v1h-2zM729 121h1v1h-1zM766 121h2v1h-2zM200 122h1v1h-1zM220 122h1v1h-1zM728 122h1v1h-1zM768 122h1v1h-1zM198 123h2v1h-2zM221 123h2v1h-2zM726 123h2v1h-2zM769 123h1v1h-1zM197 124h1v1h-1zM223 124h2v1h-2zM725 124h1v1h-1zM770 124h1v1h-1zM196 125h1v1h-1zM225 125h2v1h-2zM724 125h1v1h-1zM771 125h1v1h-1zM195 126h1v1h-1zM227 126h2v1h-2zM723 126h1v1h-1zM772 126h1v1h-1zM194 127h1v1h-1zM229 127h1v1h-1zM723 127h1v1h-1zM773 127h1v1h-1zM193 128h1v1h-1zM230 128h2v1h-2zM722 128h1v1h-1zM774 128h2v1h-2zM192 129h1v1h-1zM232 129h1v1h-1zM722 129h1v1h-1zM776 129h1v1h-1zM191 130h1v1h-1zM233 130h1v1h-1zM721 130h1v1h-1zM777 130h1v1h-1zM191 131h1v1h-1zM234 131h1v1h-1zM721 131h1v1h-1zM778 131h1v1h-1zM190 132h1v1h-1zM234 132h1v1h-1zM720 132h1v1h-1zM779 132h1v1h-1zM190 133h1v1h-1zM235 133h1v1h-1zM720 133h1v1h-1zM780 133h1v1h-1zM189 134h1v1h-1zM236 134h1v1h-1zM719 134h1v1h-1zM781 134h1v1h-1zM189 135h1v1h-1zM237 135h1v1h-1zM719 135h1v1h-1zM782 135h2v1h-2zM188 136h1v1h-1zM237 136h1v1h-1zM718 136h1v1h-1zM784 136h1v1h-1zM187 137h1v1h-1zM238 137h1v1h-1zM718 137h1v1h-1zM785 137h1v1h-1zM186 138h1v1h-1zM238 138h1v1h-1zM717 138h1v1h-1zM786 138h2v1h-2zM185 139h1v1h-1zM239 139h1v1h-1zM717 139h1v1h-1zM788 139h1v1h-1zM184 140h1v1h-1zM239 140h1v1h-1zM716 140h1v1h-1zM789 140h1v1h-1zM183 141h1v1h-1zM240 141h1v1h-1zM716 141h1v1h-1zM789 141h1v1h-1zM183 142h1v1h-1zM241 142h1v1h-1zM716 142h1v1h-1zM790 142h1v1h-1zM182 143h1v1h-1zM242 143h1v1h-1zM715 143h1v1h-1zM790 143h1v1h-1zM182 144h1v1h-1zM242 144h1v1h-1zM715 144h1v1h-1zM791 144h1v1h-1zM181 145h1v1h-1zM243 145h1v1h-1zM714 145h1v1h-1zM791 145h1v1h-1zM181 146h1v1h-1zM244 146h1v1h-1zM714 146h1v1h-1zM792 146h1v1h-1zM180 147h1v1h-1zM245 147h1v1h-1zM713 147h1v1h-1zM793 147h1v1h-1zM179 148h1v1h-1zM245 148h1v1h-1zM713 148h1v1h-1zM793 148h1v1h-1zM179 149h1v1h-1zM246 149h1v1h-1zM712 149h1v1h-1zM794 149h1v1h-1zM178 150h1v1h-1zM247 150h1v1h-1zM712 150h1v1h-1zM794 150h1v1h-1zM177 151h1v1h-1zM247 151h1v1h-1zM711 151h1v1h-1zM795 151h1v1h-1zM177 152h1v1h-1zM248 152h1v1h-1zM711 152h1v1h-1zM795 152h1v1h-1zM176 153h1v1h-1zM249 153h1v1h-1zM710 153h1v1h-1zM796 153h1v1h-1zM175 154h1v1h-1zM249 154h1v1h-1zM710 154h1v1h-1zM796 154h1v1h-1zM174 155h1v1h-1zM250 155h1v1h-1zM709 155h1v1h-1zM797 155h1v1h-1zM173 156h1v1h-1zM251 156h1v1h-1zM709 156h1v1h-1zM797 156h1v1h-1zM172 157h1v1h-1zM251 157h1v1h-1zM708 157h1v1h-1zM798 157h1v1h-1zM171 158h1v1h-1zM252 158h1v1h-1zM707 158h1v1h-1zM798 158h1v1h-1zM171 159h1v1h-1zM253 159h1v1h-1zM707 159h1v1h-1zM799 159h1v1h-1zM170 160h1v1h-1zM253 160h1v1h-1zM706 160h1v1h-1zM799 160h1v1h-1zM169 161h1v1h-1zM254 161h1v1h-1zM705 161h1v1h-1zM800 161h1v1h-1zM169 162h1v1h-1zM254 162h1v1h-1zM705 162h1v1h-1zM800 162h1v1h-1zM168 163h1v1h-1zM255 163h1v1h-1zM704 163h1v1h-1zM800 163h1v1h-1zM167 164h1v1h-1zM255 164h1v1h-1zM703 164h1v1h-1zM801 164h1v1h-1zM42 165h3v1h-3zM166 165h1v1h-1zM256 165h1v1h-1zM702 165h1v1h-1zM801 165h1v1h-1zM36 166h6v1h-6zM45 166h2v1h-2zM166 166h1v1h-1zM257 166h1v1h-1zM702 166h1v1h-1zM802 166h1v1h-1zM34 167h2v1h-2zM47 167h2v1h-2zM165 167h1v1h-1zM257 167h1v1h-1zM701 167h1v1h-1zM802 167h1v1h-1zM33 168h1v1h-1zM49 168h1v1h-1zM164 168h1v1h-1zM258 168h1v1h-1zM700 168h1v1h-1zM803 168h1v1h-1zM31 169h2v1h-2zM50 169h2v1h-2zM163 169h1v1h-1zM258 169h1v1h-1zM699 169h1v1h-1zM803 169h1v1h-1zM29 170h2v1h-2zM52 170h1v1h-1zM163 170h1v1h-1zM259 170h1v1h-1zM699 170h1v1h-1zM804 170h1v1h-1zM28 171h1v1h-1zM53 171h1v1h-1zM162 171h1v1h-1zM259 171h1v1h-1zM698 171h1v1h-1zM804 171h1v1h-1zM27 172h1v1h-1zM54 172h1v1h-1zM162 172h1v1h-1zM260 172h1v1h-1zM697 172h1v1h-1zM804 172h1v1h-1zM26 173h1v1h-1zM55 173h1v1h-1zM161 173h1v1h-1zM261 173h1v1h-1zM697 173h1v1h-1zM805 173h1v1h-1zM26 174h1v1h-1zM56 174h1v1h-1zM161 174h1v1h-1zM262 174h1v1h-1zM696 174h1v1h-1zM805 174h1v1h-1zM25 175h1v1h-1zM57 175h1v1h-1zM160 175h1v1h-1zM262 175h1v1h-1zM696 175h1v1h-1zM806 175h1v1h-1zM24 176h1v1h-1zM57 176h1v1h-1zM159 176h1v1h-1zM263 176h1v1h-1zM695 176h1v1h-1zM806 176h1v1h-1zM23 177h1v1h-1zM58 177h1v1h-1zM159 177h1v1h-1zM264 177h1v1h-1zM695 177h1v1h-1zM807 177h1v1h-1zM22 178h1v1h-1zM59 178h1v1h-1zM158 178h1v1h-1zM265 178h1v1h-1zM694 178h1v1h-1zM807 178h1v1h-1zM21 179h1v1h-1zM59 179h1v1h-1zM158 179h1v1h-1zM265 179h1v1h-1zM694 179h1v1h-1zM808 179h1v1h-1zM20 180h1v1h-1zM60 180h1v1h-1zM157 180h1v1h-1zM266 180h1v1h-1zM693 180h1v1h-1zM808 180h1v1h-1zM19 181h1v1h-1zM61 181h1v1h-1zM157 181h1v1h-1zM266 181h1v1h-1zM693 181h1v1h-1zM808 181h1v1h-1zM19 182h1v1h-1zM61 182h1v1h-1zM156 182h1v1h-1zM267 182h1v1h-1zM692 182h1v1h-1zM809 182h1v1h-1zM18 183h1v1h-1zM62 183h1v1h-1zM155 183h1v1h-1zM267 183h1v1h-1zM691 183h1v1h-1zM809 183h1v1h-1zM17 184h1v1h-1zM62 184h1v1h-1zM154 184h1v1h-1zM268 184h1v1h-1zM691 184h1v1h-1zM810 184h1v1h-1zM17 185h1v1h-1zM63 185h1v1h-1zM153 185h1v1h-1zM268 185h1v1h-1zM690 185h1v1h-1zM810 185h1v1h-1zM16 186h1v1h-1zM63 186h1v1h-1zM152 186h1v1h-1zM269 186h1v1h-1zM689 186h1v1h-1zM811 186h1v1h-1zM15 187h1v1h-1zM64 187h1v1h-1zM151 187h1v1h-1zM270 187h1v1h-1zM689 187h1v1h-1zM811 187h1v1h-1zM15 188h1v1h-1zM65 188h1v1h-1zM151 188h1v1h-1zM270 188h1v1h-1zM687 188h2v1h-2zM812 188h1v1h-1zM14 189h1v1h-1zM65 189h1v1h-1zM150 189h1v1h-1zM271 189h1v1h-1zM685 189h2v1h-2zM812 189h1v1h-1zM14 190h1v1h-1zM66 190h1v1h-1zM149 190h1v1h-1zM272 190h1v1h-1zM680 190h5v1h-5zM812 190h1v1h-1zM13 191h1v1h-1zM67 191h1v1h-1zM149 191h1v1h-1zM273 191h1v1h-1zM678 191h2v1h-2zM813 191h1v1h-1zM13 192h1v1h-1zM67 192h1v1h-1zM148 192h1v1h-1zM274 192h1v1h-1zM677 192h1v1h-1zM813 192h1v1h-1zM12 193h1v1h-1zM68 193h1v1h-1zM148 193h1v1h-1zM274 193h1v1h-1zM676 193h1v1h-1zM813 193h1v1h-1zM12 194h1v1h-1zM69 194h1v1h-1zM147 194h1v1h-1zM275 194h1v1h-1zM674 194h2v1h-2zM814 194h1v1h-1zM11 195h1v1h-1zM70 195h2v1h-2zM147 195h1v1h-1zM276 195h1v1h-1zM673 195h1v1h-1zM814 195h1v1h-1zM11 196h1v1h-1zM72 196h1v1h-1zM146 196h1v1h-1zM277 196h1v1h-1zM672 196h1v1h-1zM815 196h1v1h-1zM10 197h1v1h-1zM73 197h1v1h-1zM146 197h1v1h-1zM277 197h1v1h-1zM671 197h1v1h-1zM815 197h1v1h-1zM10 198h1v1h-1zM74 198h2v1h-2zM145 198h1v1h-1zM278 198h1v1h-1zM670 198h1v1h-1zM815 198h1v1h-1zM9 199h1v1h-1zM76 199h1v1h-1zM145 199h1v1h-1zM279 199h1v1h-1zM669 199h1v1h-1zM816 199h1v1h-1zM9 200h1v1h-1zM77 200h1v1h-1zM144 200h1v1h-1zM279 200h1v1h-1zM656 200h2v1h-2zM666 200h3v1h-3zM816 200h1v1h-1zM8 201h1v1h-1zM78 201h1v1h-1zM143 201h1v1h-1zM280 201h1v1h-1zM655 201h1v1h-1zM658 201h8v1h-8zM816 201h1v1h-1zM8 202h1v1h-1zM79 202h1v1h-1zM142 202h1v1h-1zM281 202h1v1h-1zM654 202h1v1h-1zM817 202h1v1h-1zM7 203h1v1h-1zM80 203h1v1h-1zM142 203h1v1h-1zM281 203h1v1h-1zM653 203h1v1h-1zM817 203h1v1h-1zM7 204h1v1h-1zM81 204h2v1h-2zM141 204h1v1h-1zM282 204h1v1h-1zM651 204h2v1h-2zM817 204h1v1h-1zM6 205h1v1h-1zM83 205h2v1h-2zM140 205h1v1h-1zM282 205h1v1h-1zM649 205h2v1h-2zM818 205h1v1h-1zM6 206h1v1h-1zM85 206h1v1h-1zM138 206h2v1h-2zM283 206h1v1h-1zM648 206h1v1h-1zM818 206h1v1h-1zM5 207h1v1h-1zM86 207h1v1h-1zM137 207h1v1h-1zM283 207h1v1h-1zM647 207h1v1h-1zM818 207h1v1h-1zM5 208h1v1h-1zM87 208h1v1h-1zM135 208h2v1h-2zM284 208h1v1h-1zM646 208h1v1h-1zM819 208h1v1h-1zM4 209h1v1h-1zM88 209h1v1h-1zM133 209h2v1h-2zM285 209h1v1h-1zM645 209h1v1h-1zM819 209h1v1h-1zM89 210h1v1h-1zM132 210h1v1h-1zM285 210h1v1h-1zM644 210h1v1h-1zM819 210h1v1h-1zM89 211h1v1h-1zM130 211h2v1h-2zM286 211h1v1h-1zM643 211h1v1h-1zM820 211h1v1h-1zM90 212h1v1h-1zM129 212h1v1h-1zM287 212h1v1h-1zM642 212h1v1h-1zM820 212h1v1h-1zM91 213h1v1h-1zM124 213h5v1h-5zM287 213h1v1h-1zM641 213h1v1h-1zM820 213h1v1h-1zM91 214h1v1h-1zM122 214h2v1h-2zM288 214h1v1h-1zM640 214h1v1h-1zM821 214h1v1h-1zM92 215h1v1h-1zM121 215h1v1h-1zM289 215h1v1h-1zM638 215h2v1h-2zM821 215h1v1h-1zM93 216h2v1h-2zM119 216h2v1h-2zM289 216h1v1h-1zM637 216h1v1h-1zM822 216h1v1h-1zM95 217h2v1h-2zM117 217h2v1h-2zM290 217h1v1h-1zM636 217h1v1h-1zM822 217h1v1h-1zM97 218h1v1h-1zM114 218h3v1h-3zM291 218h1v1h-1zM635 218h1v1h-1zM822 218h1v1h-1zM98 219h2v1h-2zM110 219h4v1h-4zM291 219h1v1h-1zM634 219h1v1h-1zM823 219h1v1h-1zM100 220h10v1h-10zM292 220h1v1h-1zM634 220h1v1h-1zM823 220h1v1h-1zM293 221h1v1h-1zM633 221h1v1h-1zM824 221h1v1h-1zM294 222h1v1h-1zM632 222h1v1h-1zM824 222h1v1h-1zM294 223h1v1h-1zM631 223h1v1h-1zM824 223h1v1h-1zM295 224h1v1h-1zM631 224h1v1h-1zM825 224h1v1h-1zM296 225h1v1h-1zM630 225h1v1h-1zM825 225h1v1h-1zM297 226h1v1h-1zM629 226h1v1h-1zM825 226h1v1h-1zM297 227h1v1h-1zM629 227h1v1h-1zM826 227h1v1h-1zM298 228h1v1h-1zM628 228h1v1h-1zM826 228h1v1h-1zM299 229h1v1h-1zM627 229h1v1h-1zM827 229h1v1h-1zM299 230h1v1h-1zM428 230h6v1h-6zM627 230h1v1h-1zM827 230h1v1h-1zM300 231h1v1h-1zM427 231h1v1h-1zM434 231h4v1h-4zM455 231h2v1h-2zM626 231h1v1h-1zM827 231h1v1h-1zM301 232h1v1h-1zM426 232h1v1h-1zM438 232h3v1h-3zM453 232h2v1h-2zM457 232h2v1h-2zM625 232h1v1h-1zM828 232h1v1h-1zM301 233h1v1h-1zM425 233h1v1h-1zM441 233h2v1h-2zM450 233h3v1h-3zM459 233h3v1h-3zM625 233h1v1h-1zM828 233h1v1h-1zM302 234h1v1h-1zM424 234h1v1h-1zM443 234h7v1h-7zM462 234h3v1h-3zM624 234h1v1h-1zM828 234h1v1h-1zM303 235h1v1h-1zM423 235h1v1h-1zM465 235h2v1h-2zM623 235h1v1h-1zM829 235h1v1h-1zM303 236h1v1h-1zM422 236h1v1h-1zM467 236h2v1h-2zM623 236h1v1h-1zM829 236h1v1h-1zM304 237h1v1h-1zM421 237h1v1h-1zM469 237h2v1h-2zM622 237h1v1h-1zM830 237h1v1h-1zM305 238h1v1h-1zM418 238h3v1h-3zM471 238h7v1h-7zM621 238h1v1h-1zM830 238h1v1h-1zM305 239h1v1h-1zM416 239h2v1h-2zM478 239h4v1h-4zM486 239h4v1h-4zM621 239h1v1h-1zM831 239h1v1h-1zM306 240h1v1h-1zM414 240h2v1h-2zM482 240h4v1h-4zM490 240h4v1h-4zM620 240h1v1h-1zM831 240h1v1h-1zM306 241h1v1h-1zM413 241h1v1h-1zM494 241h3v1h-3zM619 241h1v1h-1zM832 241h1v1h-1zM307 242h1v1h-1zM412 242h1v1h-1zM497 242h2v1h-2zM618 242h1v1h-1zM832 242h1v1h-1zM307 243h1v1h-1zM411 243h1v1h-1zM499 243h2v1h-2zM618 243h1v1h-1zM833 243h1v1h-1zM308 244h1v1h-1zM410 244h1v1h-1zM501 244h1v1h-1zM617 244h1v1h-1zM834 244h2v1h-2zM308 245h1v1h-1zM409 245h1v1h-1zM502 245h1v1h-1zM616 245h1v1h-1zM836 245h1v1h-1zM309 246h1v1h-1zM408 246h1v1h-1zM502 246h1v1h-1zM614 246h2v1h-2zM836 246h1v1h-1zM309 247h1v1h-1zM407 247h1v1h-1zM503 247h1v1h-1zM613 247h1v1h-1zM837 247h1v1h-1zM310 248h1v1h-1zM406 248h1v1h-1zM504 248h1v1h-1zM612 248h1v1h-1zM837 248h1v1h-1zM311 249h1v1h-1zM405 249h1v1h-1zM504 249h1v1h-1zM611 249h1v1h-1zM838 249h1v1h-1zM311 250h1v1h-1zM404 250h1v1h-1zM505 250h1v1h-1zM610 250h1v1h-1zM838 250h1v1h-1zM312 251h1v1h-1zM403 251h1v1h-1zM505 251h1v1h-1zM610 251h1v1h-1zM839 251h1v1h-1zM312 252h1v1h-1zM402 252h1v1h-1zM506 252h1v1h-1zM609 252h1v1h-1zM839 252h1v1h-1zM313 253h1v1h-1zM401 253h1v1h-1zM506 253h1v1h-1zM603 253h6v1h-6zM840 253h1v1h-1zM313 254h1v1h-1zM399 254h2v1h-2zM507 254h1v1h-1zM601 254h2v1h-2zM840 254h1v1h-1zM314 255h1v1h-1zM397 255h2v1h-2zM507 255h1v1h-1zM596 255h5v1h-5zM840 255h1v1h-1zM314 256h1v1h-1zM395 256h2v1h-2zM508 256h1v1h-1zM595 256h1v1h-1zM841 256h1v1h-1zM315 257h1v1h-1zM393 257h2v1h-2zM508 257h1v1h-1zM594 257h1v1h-1zM841 257h1v1h-1zM315 258h1v1h-1zM392 258h1v1h-1zM508 258h1v1h-1zM593 258h1v1h-1zM841 258h1v1h-1zM316 259h1v1h-1zM390 259h2v1h-2zM509 259h1v1h-1zM592 259h1v1h-1zM842 259h1v1h-1zM316 260h1v1h-1zM389 260h1v1h-1zM509 260h1v1h-1zM591 260h1v1h-1zM842 260h1v1h-1zM317 261h1v1h-1zM387 261h2v1h-2zM510 261h1v1h-1zM590 261h1v1h-1zM843 261h1v1h-1zM317 262h1v1h-1zM385 262h2v1h-2zM510 262h1v1h-1zM589 262h1v1h-1zM843 262h1v1h-1zM318 263h1v1h-1zM384 263h1v1h-1zM511 263h1v1h-1zM588 263h1v1h-1zM843 263h1v1h-1zM318 264h1v1h-1zM382 264h2v1h-2zM511 264h1v1h-1zM587 264h1v1h-1zM844 264h1v1h-1zM319 265h1v1h-1zM381 265h1v1h-1zM512 265h1v1h-1zM586 265h1v1h-1zM844 265h1v1h-1zM319 266h1v1h-1zM380 266h1v1h-1zM512 266h1v1h-1zM585 266h1v1h-1zM844 266h1v1h-1zM320 267h1v1h-1zM379 267h1v1h-1zM513 267h1v1h-1zM582 267h3v1h-3zM845 267h1v1h-1zM320 268h1v1h-1zM378 268h1v1h-1zM514 268h1v1h-1zM579 268h3v1h-3zM845 268h1v1h-1zM321 269h1v1h-1zM378 269h1v1h-1zM514 269h1v1h-1zM577 269h2v1h-2zM846 269h1v1h-1zM322 270h1v1h-1zM377 270h1v1h-1zM515 270h1v1h-1zM574 270h3v1h-3zM846 270h1v1h-1zM322 271h1v1h-1zM376 271h1v1h-1zM516 271h1v1h-1zM572 271h2v1h-2zM846 271h1v1h-1zM323 272h1v1h-1zM375 272h1v1h-1zM517 272h2v1h-2zM571 272h1v1h-1zM847 272h1v1h-1zM324 273h1v1h-1zM374 273h1v1h-1zM519 273h2v1h-2zM570 273h1v1h-1zM847 273h1v1h-1zM325 274h1v1h-1zM373 274h1v1h-1zM521 274h1v1h-1zM569 274h1v1h-1zM848 274h1v1h-1zM326 275h1v1h-1zM372 275h1v1h-1zM522 275h2v1h-2zM568 275h1v1h-1zM848 275h1v1h-1zM327 276h1v1h-1zM371 276h1v1h-1zM524 276h1v1h-1zM567 276h1v1h-1zM848 276h1v1h-1zM328 277h2v1h-2zM370 277h1v1h-1zM525 277h2v1h-2zM566 277h1v1h-1zM849 277h1v1h-1zM330 278h3v1h-3zM369 278h1v1h-1zM527 278h2v1h-2zM566 278h1v1h-1zM849 278h1v1h-1zM333 279h1v1h-1zM366 279h3v1h-3zM529 279h1v1h-1zM565 279h1v1h-1zM850 279h1v1h-1zM334 280h2v1h-2zM359 280h7v1h-7zM530 280h1v1h-1zM564 280h1v1h-1zM850 280h1v1h-1zM336 281h2v1h-2zM346 281h3v1h-3zM357 281h2v1h-2zM531 281h1v1h-1zM563 281h1v1h-1zM851 281h1v1h-1zM338 282h8v1h-8zM349 282h2v1h-2zM354 282h3v1h-3zM532 282h1v1h-1zM562 282h1v1h-1zM851 282h1v1h-1zM351 283h3v1h-3zM533 283h1v1h-1zM561 283h1v1h-1zM852 283h1v1h-1zM534 284h1v1h-1zM560 284h1v1h-1zM852 284h1v1h-1zM535 285h1v1h-1zM559 285h1v1h-1zM852 285h1v1h-1zM536 286h1v1h-1zM558 286h1v1h-1zM853 286h1v1h-1zM537 287h2v1h-2zM557 287h1v1h-1zM853 287h1v1h-1zM539 288h3v1h-3zM546 288h11v1h-11zM854 288h1v1h-1zM542 289h4v1h-4zM854 289h1v1h-1zM855 290h1v1h-1zM855 291h1v1h-1zM856 292h1v1h-1zM856 293h1v1h-1zM857 294h1v1h-1zM857 295h1v1h-1zM858 296h1v1h-1zM858 297h1v1h-1zM859 298h1v1h-1zM859 299h1v1h-1zM860 300h1v1h-1zM860 301h1v1h-1zM861 302h1v1h-1zM861 303h1v1h-1zM924 303h1v1h-1zM862 304h1v1h-1zM923 304h1v1h-1zM862 305h1v1h-1zM923 305h1v1h-1zM863 306h1v1h-1zM922 306h1v1h-1zM863 307h1v1h-1zM922 307h1v1h-1zM864 308h1v1h-1zM921 308h1v1h-1zM864 309h1v1h-1zM921 309h1v1h-1zM865 310h1v1h-1zM920 310h1v1h-1zM865 311h1v1h-1zM920 311h1v1h-1zM866 312h1v1h-1zM919 312h1v1h-1zM867 313h1v1h-1zM919 313h1v1h-1zM867 314h1v1h-1zM918 314h1v1h-1zM868 315h1v1h-1zM918 315h1v1h-1zM869 316h1v1h-1zM917 316h1v1h-1zM870 317h1v1h-1zM917 317h1v1h-1zM870 318h1v1h-1zM916 318h1v1h-1zM871 319h1v1h-1zM916 319h1v1h-1zM872 320h1v1h-1zM915 320h1v1h-1zM873 321h1v1h-1zM915 321h1v1h-1zM874 322h2v1h-2zM914 322h1v1h-1zM876 323h2v1h-2zM914 323h1v1h-1zM878 324h3v1h-3zM913 324h1v1h-1zM881 325h1v1h-1zM913 325h1v1h-1zM882 326h2v1h-2zM912 326h1v1h-1zM884 327h1v1h-1zM911 327h1v1h-1zM885 328h2v1h-2zM911 328h1v1h-1zM887 329h2v1h-2zM910 329h1v1h-1zM889 330h1v1h-1zM909 330h1v1h-1zM889 331h1v1h-1zM909 331h1v1h-1zM890 332h1v1h-1zM908 332h1v1h-1zM890 333h1v1h-1zM907 333h1v1h-1zM891 334h1v1h-1zM906 334h1v1h-1zM891 335h1v1h-1zM905 335h1v1h-1zM892 336h1v1h-1zM903 336h2v1h-2zM893 337h2v1h-2zM901 337h2v1h-2zM895 338h6v1h-6z" fill="#ff0000" shape-rendering="crispEdges"/>
<defs><linearGradient id="gpan" gradientUnits="userSpaceOnUse" x1="0" y1="43" x2="0" y2="100"><stop offset="0" stop-color="#5c5cff"/><stop offset="0.42" stop-color="#2e2ee2"/><stop offset="1" stop-color="#0505a8"/></linearGradient><linearGradient id="gt" x1="0" y1="0" x2="0" y2="1"><stop offset="0" stop-color="#5c5cff"/><stop offset="1" stop-color="#2e2ee6"/></linearGradient><linearGradient id="gb" x1="0" y1="0" x2="0" y2="1"><stop offset="0" stop-color="#2a2ae0"/><stop offset="1" stop-color="#0000a8"/></linearGradient><linearGradient id="gbtn" x1="0" y1="0" x2="0" y2="1"><stop offset="0" stop-color="#f2f2f2"/><stop offset="0.33" stop-color="#ebebeb"/><stop offset="0.34" stop-color="#dedede"/><stop offset="1" stop-color="#d6d6d6"/></linearGradient></defs>
<g shape-rendering="crispEdges">
<rect x="5" y="41" width="223" height="61" fill="#ffffff"/>
<polygon points="7,43 59,43 59,67 116,67 116,100 7,100" fill="#0000b4"/>
<polygon points="8,44 58,44 58,68 115,68 115,99 8,99" fill="url(#gpan)"/>
<polygon points="118,67 174,67 174,43 226,43 226,100 118,100" fill="#0000b4"/>
<polygon points="119,68 175,68 175,44 225,44 225,99 119,99" fill="url(#gpan)"/>
<rect x="10" y="67" width="45" height="1" fill="#8c8cff"/>
<rect x="178" y="67" width="45" height="1" fill="#8c8cff"/>
<rect x="59" y="41" width="114" height="26" fill="#ffffff"/>
<rect x="61" y="43" width="111" height="22" fill="#a8a8a8"/>
<rect x="62" y="44" width="109" height="20" fill="#ffffff"/>
<rect x="63" y="45" width="18" height="18" fill="url(#gbtn)"/>
<rect x="152" y="45" width="18" height="18" fill="url(#gbtn)"/>
<rect x="82" y="44" width="1" height="20" fill="#a8a8a8"/>
<rect x="150" y="44" width="1" height="20" fill="#a8a8a8"/>
</g>
<polygon points="68.8,52 74.2,52 71.5,55.2" fill="#4a66c8"/>
<polygon points="157.8,55.2 163.2,55.2 160.5,52" fill="#4a66c8"/>
<g font-family="Liberation Sans">
<text x="123.1" y="58" font-size="12" fill="#000" textLength="23.5" lengthAdjust="spacingAndGlyphs">2.00</text>
<text x="19.7" y="58.4" font-size="11.8" fill="#e8e8ff" textLength="25.2" lengthAdjust="spacingAndGlyphs">SELL</text>
<text x="187.5" y="58.4" font-size="11.8" fill="#e8e8ff" textLength="23.5" lengthAdjust="spacingAndGlyphs">BUY</text>
<text x="27" y="94.6" font-size="11.5" fill="#fff" textLength="23.6" lengthAdjust="spacingAndGlyphs" font-weight="bold">0.71</text>
<text x="54.6" y="95.1" font-size="33" fill="#fff" textLength="33.5" lengthAdjust="spacingAndGlyphs">87</text>
<text x="94" y="78.9" font-size="10.5" fill="#fff" textLength="7" lengthAdjust="spacingAndGlyphs" font-weight="bold">9</text>
<text x="137.2" y="94.6" font-size="11.5" fill="#fff" textLength="23.6" lengthAdjust="spacingAndGlyphs" font-weight="bold">0.71</text>
<text x="165.1" y="95.1" font-size="33" fill="#fff" textLength="35" lengthAdjust="spacingAndGlyphs">90</text>
<text x="205.8" y="78.9" font-size="10.5" fill="#fff" textLength="5.8" lengthAdjust="spacingAndGlyphs" font-weight="bold">1</text>
</g>
<polygon points="7,34 14,34 10.5,30" fill="#000"/>
<g font-family="Liberation Sans">
<text x="19.9" y="35" font-size="9.8" fill="#000" textLength="67.6" lengthAdjust="spacingAndGlyphs">AUDUSD-,Daily</text>
<text x="93.8" y="35" font-size="9.8" fill="#000" textLength="32.4" lengthAdjust="spacingAndGlyphs">0.71574</text>
<text x="130.2" y="35" font-size="9.8" fill="#000" textLength="32.8" lengthAdjust="spacingAndGlyphs">0.71990</text>
<text x="166" y="35" font-size="9.8" fill="#000" textLength="32.8" lengthAdjust="spacingAndGlyphs">0.71560</text>
<text x="201.8" y="35" font-size="9.8" fill="#000" textLength="33.2" lengthAdjust="spacingAndGlyphs">0.71879</text>
</g>
<g font-family="Liberation Sans" shape-rendering="crispEdges">
<rect x="1167" y="48" width="2" height="1" fill="#000"/>
<text x="1172" y="52" font-size="9.8" fill="#000" textLength="32" lengthAdjust="spacingAndGlyphs">0.76470</text>
<rect x="1167" y="81" width="2" height="1" fill="#000"/>
<text x="1172" y="85" font-size="9.8" fill="#000" textLength="32" lengthAdjust="spacingAndGlyphs">0.75710</text>
<rect x="1167" y="114" width="2" height="1" fill="#000"/>
<text x="1172" y="118" font-size="9.8" fill="#000" textLength="32" lengthAdjust="spacingAndGlyphs">0.74950</text>
<rect x="1167" y="146" width="2" height="1" fill="#000"/>
<text x="1172" y="150" font-size="9.8" fill="#000" textLength="32" lengthAdjust="spacingAndGlyphs">0.74210</text>
<rect x="1167" y="180" width="2" height="1" fill="#000"/>
<text x="1172" y="184" font-size="9.8" fill="#000" textLength="32" lengthAdjust="spacingAndGlyphs">0.73450</text>
<rect x="1167" y="213" width="2" height="1" fill="#000"/>
<text x="1172" y="217" font-size="9.8" fill="#000" textLength="32" lengthAdjust="spacingAndGlyphs">0.72690</text>
<rect x="1167" y="246" width="2" height="1" fill="#000"/>
<rect x="1167" y="279" width="2" height="1" fill="#000"/>
<text x="1172" y="283" font-size="9.8" fill="#000" textLength="32" lengthAdjust="spacingAndGlyphs">0.71170</text>
<rect x="1167" y="312" width="2" height="1" fill="#000"/>
<text x="1172" y="316" font-size="9.8" fill="#000" textLength="32" lengthAdjust="spacingAndGlyphs">0.70410</text>
<rect x="1167" y="345" width="2" height="1" fill="#000"/>
<rect x="1167" y="378" width="2" height="1" fill="#000"/>
<text x="1172" y="382" font-size="9.8" fill="#000" textLength="32" lengthAdjust="spacingAndGlyphs">0.68890</text>
<rect x="1167" y="411" width="2" height="1" fill="#000"/>
<text x="1172" y="415" font-size="9.8" fill="#000" textLength="32" lengthAdjust="spacingAndGlyphs">0.68130</text>
<rect x="1168" y="84" width="39" height="11" fill="#ff0000"/>
<text x="1172" y="93" font-size="9.8" fill="#fff" textLength="32" lengthAdjust="spacingAndGlyphs">0.75512</text>
<rect x="1168" y="150" width="39" height="11" fill="#ff0000"/>
<text x="1172" y="159" font-size="9.8" fill="#fff" textLength="32" lengthAdjust="spacingAndGlyphs">0.74002</text>
<rect x="1168" y="215" width="39" height="11" fill="#00ff00"/>
<text x="1172" y="224" font-size="9.8" fill="#fff" textLength="32" lengthAdjust="spacingAndGlyphs">0.72504</text>
<rect x="1168" y="243" width="39" height="11" fill="#000000"/>
<text x="1172" y="252" font-size="9.8" fill="#fff" textLength="32" lengthAdjust="spacingAndGlyphs">0.71879</text>
<rect x="1168" y="280" width="39" height="11" fill="#0000cd"/>
<text x="1172" y="289" font-size="9.8" fill="#fff" textLength="32" lengthAdjust="spacingAndGlyphs">0.71013</text>
<rect x="1168" y="342" width="39" height="11" fill="#0000ff"/>
<text x="1172" y="351" font-size="9.8" fill="#fff" textLength="32" lengthAdjust="spacingAndGlyphs">0.69582</text>
</g>
<g clip-path="url(#cmacd)" shape-rendering="crispEdges">
<rect x="3" y="442" width="3" height="4" fill="#c0c0c0"/>
<rect x="7" y="439" width="3" height="7" fill="#c0c0c0"/>
<rect x="11" y="438" width="3" height="8" fill="#c0c0c0"/>
<rect x="15" y="438" width="3" height="8" fill="#c0c0c0"/>
<rect x="19" y="438" width="3" height="8" fill="#c0c0c0"/>
<rect x="23" y="439" width="3" height="7" fill="#c0c0c0"/>
<rect x="27" y="440" width="3" height="6" fill="#c0c0c0"/>
<rect x="31" y="440" width="3" height="6" fill="#c0c0c0"/>
<rect x="35" y="441" width="3" height="5" fill="#c0c0c0"/>
<rect x="39" y="442" width="3" height="4" fill="#c0c0c0"/>
<rect x="43" y="443" width="3" height="3" fill="#c0c0c0"/>
<rect x="47" y="445" width="3" height="1" fill="#c0c0c0"/>
<rect x="51" y="446" width="3" height="2" fill="#c0c0c0"/>
<rect x="55" y="446" width="3" height="4" fill="#c0c0c0"/>
<rect x="59" y="446" width="3" height="5" fill="#c0c0c0"/>
<rect x="63" y="446" width="3" height="7" fill="#c0c0c0"/>
<rect x="67" y="446" width="3" height="9" fill="#c0c0c0"/>
<rect x="71" y="446" width="3" height="8" fill="#c0c0c0"/>
<rect x="75" y="446" width="3" height="9" fill="#c0c0c0"/>
<rect x="79" y="446" width="3" height="9" fill="#c0c0c0"/>
<rect x="83" y="446" width="3" height="8" fill="#c0c0c0"/>
<rect x="87" y="446" width="3" height="9" fill="#c0c0c0"/>
<rect x="91" y="446" width="3" height="11" fill="#c0c0c0"/>
<rect x="95" y="446" width="3" height="11" fill="#c0c0c0"/>
<rect x="99" y="446" width="3" height="10" fill="#c0c0c0"/>
<rect x="103" y="446" width="3" height="9" fill="#c0c0c0"/>
<rect x="107" y="446" width="3" height="7" fill="#c0c0c0"/>
<rect x="111" y="446" width="3" height="6" fill="#c0c0c0"/>
<rect x="115" y="446" width="3" height="6" fill="#c0c0c0"/>
<rect x="119" y="446" width="3" height="4" fill="#c0c0c0"/>
<rect x="123" y="446" width="3" height="3" fill="#c0c0c0"/>
<rect x="127" y="446" width="3" height="2" fill="#c0c0c0"/>
<rect x="131" y="446" width="3" height="1" fill="#c0c0c0"/>
<rect x="135" y="445" width="3" height="1" fill="#c0c0c0"/>
<rect x="139" y="442" width="3" height="4" fill="#c0c0c0"/>
<rect x="143" y="440" width="3" height="6" fill="#c0c0c0"/>
<rect x="147" y="438" width="3" height="8" fill="#c0c0c0"/>
<rect x="151" y="436" width="3" height="10" fill="#c0c0c0"/>
<rect x="155" y="435" width="3" height="11" fill="#c0c0c0"/>
<rect x="159" y="433" width="3" height="13" fill="#c0c0c0"/>
<rect x="163" y="430" width="3" height="16" fill="#c0c0c0"/>
<rect x="167" y="430" width="3" height="16" fill="#c0c0c0"/>
<rect x="171" y="430" width="3" height="16" fill="#c0c0c0"/>
<rect x="175" y="430" width="3" height="16" fill="#c0c0c0"/>
<rect x="179" y="429" width="3" height="17" fill="#c0c0c0"/>
<rect x="183" y="428" width="3" height="18" fill="#c0c0c0"/>
<rect x="187" y="428" width="3" height="18" fill="#c0c0c0"/>
<rect x="191" y="427" width="3" height="19" fill="#c0c0c0"/>
<rect x="195" y="427" width="3" height="19" fill="#c0c0c0"/>
<rect x="199" y="427" width="3" height="19" fill="#c0c0c0"/>
<rect x="203" y="428" width="3" height="18" fill="#c0c0c0"/>
<rect x="207" y="431" width="3" height="15" fill="#c0c0c0"/>
<rect x="211" y="432" width="3" height="14" fill="#c0c0c0"/>
<rect x="215" y="435" width="3" height="11" fill="#c0c0c0"/>
<rect x="219" y="438" width="3" height="8" fill="#c0c0c0"/>
<rect x="223" y="440" width="3" height="6" fill="#c0c0c0"/>
<rect x="227" y="441" width="3" height="5" fill="#c0c0c0"/>
<rect x="231" y="444" width="3" height="2" fill="#c0c0c0"/>
<rect x="235" y="446" width="3" height="2" fill="#c0c0c0"/>
<rect x="239" y="446" width="3" height="5" fill="#c0c0c0"/>
<rect x="243" y="446" width="3" height="6" fill="#c0c0c0"/>
<rect x="247" y="446" width="3" height="8" fill="#c0c0c0"/>
<rect x="251" y="446" width="3" height="8" fill="#c0c0c0"/>
<rect x="255" y="446" width="3" height="9" fill="#c0c0c0"/>
<rect x="259" y="446" width="3" height="11" fill="#c0c0c0"/>
<rect x="263" y="446" width="3" height="13" fill="#c0c0c0"/>
<rect x="267" y="446" width="3" height="14" fill="#c0c0c0"/>
<rect x="271" y="446" width="3" height="16" fill="#c0c0c0"/>
<rect x="275" y="446" width="3" height="17" fill="#c0c0c0"/>
<rect x="279" y="446" width="3" height="18" fill="#c0c0c0"/>
<rect x="283" y="446" width="3" height="19" fill="#c0c0c0"/>
<rect x="287" y="446" width="3" height="20" fill="#c0c0c0"/>
<rect x="291" y="446" width="3" height="23" fill="#c0c0c0"/>
<rect x="295" y="446" width="3" height="23" fill="#c0c0c0"/>
<rect x="299" y="446" width="3" height="24" fill="#c0c0c0"/>
<rect x="303" y="446" width="3" height="24" fill="#c0c0c0"/>
<rect x="307" y="446" width="3" height="25" fill="#c0c0c0"/>
<rect x="311" y="446" width="3" height="26" fill="#c0c0c0"/>
<rect x="315" y="446" width="3" height="29" fill="#c0c0c0"/>
<rect x="319" y="446" width="3" height="30" fill="#c0c0c0"/>
<rect x="323" y="446" width="3" height="30" fill="#c0c0c0"/>
<rect x="327" y="446" width="3" height="27" fill="#c0c0c0"/>
<rect x="331" y="446" width="3" height="24" fill="#c0c0c0"/>
<rect x="335" y="446" width="3" height="21" fill="#c0c0c0"/>
<rect x="339" y="446" width="3" height="19" fill="#c0c0c0"/>
<rect x="343" y="446" width="3" height="17" fill="#c0c0c0"/>
<rect x="347" y="446" width="3" height="16" fill="#c0c0c0"/>
<rect x="351" y="446" width="3" height="15" fill="#c0c0c0"/>
<rect x="355" y="446" width="3" height="13" fill="#c0c0c0"/>
<rect x="359" y="446" width="3" height="11" fill="#c0c0c0"/>
<rect x="363" y="446" width="3" height="11" fill="#c0c0c0"/>
<rect x="367" y="446" width="3" height="11" fill="#c0c0c0"/>
<rect x="371" y="446" width="3" height="11" fill="#c0c0c0"/>
<rect x="375" y="446" width="3" height="10" fill="#c0c0c0"/>
<rect x="379" y="446" width="3" height="7" fill="#c0c0c0"/>
<rect x="383" y="446" width="3" height="4" fill="#c0c0c0"/>
<rect x="387" y="446" width="3" height="2" fill="#c0c0c0"/>
<rect x="391" y="445" width="3" height="1" fill="#c0c0c0"/>
<rect x="395" y="444" width="3" height="2" fill="#c0c0c0"/>
<rect x="399" y="443" width="3" height="3" fill="#c0c0c0"/>
<rect x="403" y="441" width="3" height="5" fill="#c0c0c0"/>
<rect x="407" y="441" width="3" height="5" fill="#c0c0c0"/>
<rect x="411" y="439" width="3" height="7" fill="#c0c0c0"/>
<rect x="415" y="438" width="3" height="8" fill="#c0c0c0"/>
<rect x="419" y="440" width="3" height="6" fill="#c0c0c0"/>
<rect x="423" y="440" width="3" height="6" fill="#c0c0c0"/>
<rect x="427" y="441" width="3" height="5" fill="#c0c0c0"/>
<rect x="431" y="443" width="3" height="3" fill="#c0c0c0"/>
<rect x="435" y="444" width="3" height="2" fill="#c0c0c0"/>
<rect x="439" y="445" width="3" height="1" fill="#c0c0c0"/>
<rect x="443" y="446" width="3" height="1" fill="#c0c0c0"/>
<rect x="447" y="445" width="3" height="1" fill="#c0c0c0"/>
<rect x="451" y="443" width="3" height="3" fill="#c0c0c0"/>
<rect x="455" y="442" width="3" height="4" fill="#c0c0c0"/>
<rect x="459" y="442" width="3" height="4" fill="#c0c0c0"/>
<rect x="463" y="443" width="3" height="3" fill="#c0c0c0"/>
<rect x="467" y="443" width="3" height="3" fill="#c0c0c0"/>
<rect x="471" y="444" width="3" height="2" fill="#c0c0c0"/>
<rect x="475" y="445" width="3" height="1" fill="#c0c0c0"/>
<rect x="479" y="445" width="3" height="1" fill="#c0c0c0"/>
<rect x="483" y="446" width="3" height="1" fill="#c0c0c0"/>
<rect x="487" y="446" width="3" height="1" fill="#c0c0c0"/>
<rect x="491" y="446" width="3" height="3" fill="#c0c0c0"/>
<rect x="495" y="446" width="3" height="4" fill="#c0c0c0"/>
<rect x="499" y="446" width="3" height="6" fill="#c0c0c0"/>
<rect x="503" y="446" width="3" height="9" fill="#c0c0c0"/>
<rect x="507" y="446" width="3" height="13" fill="#c0c0c0"/>
<rect x="511" y="446" width="3" height="16" fill="#c0c0c0"/>
<rect x="515" y="446" width="3" height="16" fill="#c0c0c0"/>
<rect x="519" y="446" width="3" height="14" fill="#c0c0c0"/>
<rect x="523" y="446" width="3" height="13" fill="#c0c0c0"/>
<rect x="527" y="446" width="3" height="11" fill="#c0c0c0"/>
<rect x="531" y="446" width="3" height="12" fill="#c0c0c0"/>
<rect x="535" y="446" width="3" height="12" fill="#c0c0c0"/>
<rect x="539" y="446" width="3" height="10" fill="#c0c0c0"/>
<rect x="543" y="446" width="3" height="8" fill="#c0c0c0"/>
<rect x="547" y="446" width="3" height="6" fill="#c0c0c0"/>
<rect x="551" y="446" width="3" height="5" fill="#c0c0c0"/>
<rect x="555" y="446" width="3" height="5" fill="#c0c0c0"/>
<rect x="559" y="446" width="3" height="4" fill="#c0c0c0"/>
<rect x="563" y="446" width="3" height="4" fill="#c0c0c0"/>
<rect x="567" y="446" width="3" height="3" fill="#c0c0c0"/>
<rect x="571" y="446" width="3" height="1" fill="#c0c0c0"/>
<rect x="575" y="445" width="3" height="1" fill="#c0c0c0"/>
<rect x="579" y="444" width="3" height="2" fill="#c0c0c0"/>
<rect x="583" y="444" width="3" height="2" fill="#c0c0c0"/>
<rect x="587" y="443" width="3" height="3" fill="#c0c0c0"/>
<rect x="591" y="442" width="3" height="4" fill="#c0c0c0"/>
<rect x="595" y="440" width="3" height="6" fill="#c0c0c0"/>
<rect x="599" y="441" width="3" height="5" fill="#c0c0c0"/>
<rect x="603" y="440" width="3" height="6" fill="#c0c0c0"/>
<rect x="607" y="441" width="3" height="5" fill="#c0c0c0"/>
<rect x="611" y="439" width="3" height="7" fill="#c0c0c0"/>
<rect x="615" y="438" width="3" height="8" fill="#c0c0c0"/>
<rect x="619" y="436" width="3" height="10" fill="#c0c0c0"/>
<rect x="623" y="434" width="3" height="12" fill="#c0c0c0"/>
<rect x="627" y="431" width="3" height="15" fill="#c0c0c0"/>
<rect x="631" y="428" width="3" height="18" fill="#c0c0c0"/>
<rect x="635" y="428" width="3" height="18" fill="#c0c0c0"/>
<rect x="639" y="430" width="3" height="16" fill="#c0c0c0"/>
<rect x="643" y="431" width="3" height="15" fill="#c0c0c0"/>
<rect x="647" y="430" width="3" height="16" fill="#c0c0c0"/>
<rect x="651" y="431" width="3" height="15" fill="#c0c0c0"/>
<rect x="655" y="432" width="3" height="14" fill="#c0c0c0"/>
<rect x="659" y="436" width="3" height="10" fill="#c0c0c0"/>
<rect x="663" y="439" width="3" height="7" fill="#c0c0c0"/>
<rect x="667" y="439" width="3" height="7" fill="#c0c0c0"/>
<rect x="671" y="437" width="3" height="9" fill="#c0c0c0"/>
<rect x="675" y="434" width="3" height="12" fill="#c0c0c0"/>
<rect x="679" y="432" width="3" height="14" fill="#c0c0c0"/>
<rect x="683" y="431" width="3" height="15" fill="#c0c0c0"/>
<rect x="687" y="429" width="3" height="17" fill="#c0c0c0"/>
<rect x="691" y="426" width="3" height="20" fill="#c0c0c0"/>
<rect x="695" y="424" width="3" height="22" fill="#c0c0c0"/>
<rect x="699" y="422" width="3" height="24" fill="#c0c0c0"/>
<rect x="703" y="421" width="3" height="25" fill="#c0c0c0"/>
<rect x="707" y="421" width="3" height="25" fill="#c0c0c0"/>
<rect x="711" y="421" width="3" height="25" fill="#c0c0c0"/>
<rect x="715" y="422" width="3" height="24" fill="#c0c0c0"/>
<rect x="719" y="423" width="3" height="23" fill="#c0c0c0"/>
<rect x="723" y="424" width="3" height="22" fill="#c0c0c0"/>
<rect x="727" y="425" width="3" height="21" fill="#c0c0c0"/>
<rect x="731" y="424" width="3" height="22" fill="#c0c0c0"/>
<rect x="735" y="423" width="3" height="23" fill="#c0c0c0"/>
<rect x="739" y="425" width="3" height="21" fill="#c0c0c0"/>
<rect x="743" y="427" width="3" height="19" fill="#c0c0c0"/>
<rect x="747" y="429" width="3" height="17" fill="#c0c0c0"/>
<rect x="751" y="432" width="3" height="14" fill="#c0c0c0"/>
<rect x="755" y="435" width="3" height="11" fill="#c0c0c0"/>
<rect x="759" y="436" width="3" height="10" fill="#c0c0c0"/>
<rect x="763" y="437" width="3" height="9" fill="#c0c0c0"/>
<rect x="767" y="440" width="3" height="6" fill="#c0c0c0"/>
<rect x="771" y="442" width="3" height="4" fill="#c0c0c0"/>
<rect x="775" y="444" width="3" height="2" fill="#c0c0c0"/>
<rect x="779" y="446" width="3" height="1" fill="#c0c0c0"/>
<rect x="783" y="446" width="3" height="2" fill="#c0c0c0"/>
<rect x="787" y="446" width="3" height="1" fill="#c0c0c0"/>
<rect x="791" y="446" width="3" height="3" fill="#c0c0c0"/>
<rect x="795" y="446" width="3" height="8" fill="#c0c0c0"/>
<rect x="799" y="446" width="3" height="12" fill="#c0c0c0"/>
<rect x="803" y="446" width="3" height="16" fill="#c0c0c0"/>
<rect x="807" y="446" width="3" height="20" fill="#c0c0c0"/>
<rect x="811" y="446" width="3" height="24" fill="#c0c0c0"/>
<rect x="815" y="446" width="3" height="27" fill="#c0c0c0"/>
<rect x="819" y="446" width="3" height="29" fill="#c0c0c0"/>
<rect x="823" y="446" width="3" height="32" fill="#c0c0c0"/>
<rect x="827" y="446" width="3" height="33" fill="#c0c0c0"/>
<rect x="831" y="446" width="3" height="33" fill="#c0c0c0"/>
<rect x="835" y="446" width="3" height="28" fill="#c0c0c0"/>
<rect x="839" y="446" width="3" height="28" fill="#c0c0c0"/>
<rect x="843" y="446" width="3" height="29" fill="#c0c0c0"/>
<rect x="847" y="446" width="3" height="29" fill="#c0c0c0"/>
<rect x="851" y="446" width="3" height="32" fill="#c0c0c0"/>
<rect x="855" y="446" width="3" height="35" fill="#c0c0c0"/>
<rect x="859" y="446" width="3" height="37" fill="#c0c0c0"/>
<rect x="863" y="446" width="3" height="39" fill="#c0c0c0"/>
<rect x="867" y="446" width="3" height="39" fill="#c0c0c0"/>
<rect x="871" y="446" width="3" height="38" fill="#c0c0c0"/>
<rect x="875" y="446" width="3" height="36" fill="#c0c0c0"/>
<rect x="879" y="446" width="3" height="33" fill="#c0c0c0"/>
<rect x="883" y="446" width="3" height="32" fill="#c0c0c0"/>
<rect x="887" y="446" width="3" height="28" fill="#c0c0c0"/>
<rect x="891" y="446" width="3" height="26" fill="#c0c0c0"/>
<rect x="895" y="446" width="3" height="22" fill="#c0c0c0"/>
<rect x="899" y="446" width="3" height="19" fill="#c0c0c0"/>
<rect x="903" y="446" width="3" height="15" fill="#c0c0c0"/>
<rect x="907" y="446" width="3" height="13" fill="#c0c0c0"/>
<rect x="911" y="446" width="3" height="10" fill="#c0c0c0"/>
<rect x="915" y="446" width="3" height="7" fill="#c0c0c0"/>
<rect x="919" y="446" width="3" height="4" fill="#c0c0c0"/>
<rect x="923" y="446" width="3" height="1" fill="#c0c0c0"/>
</g>
<path d="M726 422h4v1h-4zM718 423h8v1h-8zM730 423h12v1h-12zM714 424h4v1h-4zM742 424h4v1h-4zM711 425h3v1h-3zM746 425h4v1h-4zM709 426h2v1h-2zM750 426h4v1h-4zM707 427h2v1h-2zM754 427h3v1h-3zM202 428h8v1h-8zM705 428h2v1h-2zM757 428h2v1h-2zM194 429h8v1h-8zM210 429h8v1h-8zM703 429h2v1h-2zM759 429h3v1h-3zM186 430h8v1h-8zM218 430h3v1h-3zM701 430h2v1h-2zM762 430h3v1h-3zM182 431h4v1h-4zM221 431h2v1h-2zM650 431h12v1h-12zM698 431h3v1h-3zM765 431h2v1h-2zM179 432h3v1h-3zM223 432h3v1h-3zM646 432h4v1h-4zM662 432h4v1h-4zM695 432h3v1h-3zM767 432h2v1h-2zM177 433h2v1h-2zM226 433h3v1h-3zM642 433h4v1h-4zM666 433h4v1h-4zM693 433h2v1h-2zM769 433h2v1h-2zM174 434h3v1h-3zM229 434h2v1h-2zM638 434h4v1h-4zM670 434h12v1h-12zM686 434h7v1h-7zM771 434h2v1h-2zM171 435h3v1h-3zM231 435h2v1h-2zM634 435h4v1h-4zM682 435h4v1h-4zM773 435h2v1h-2zM169 436h2v1h-2zM233 436h2v1h-2zM631 436h3v1h-3zM775 436h2v1h-2zM166 437h3v1h-3zM235 437h2v1h-2zM629 437h2v1h-2zM777 437h2v1h-2zM163 438h3v1h-3zM237 438h1v1h-1zM626 438h3v1h-3zM779 438h2v1h-2zM34 439h8v1h-8zM161 439h2v1h-2zM238 439h2v1h-2zM622 439h4v1h-4zM781 439h2v1h-2zM30 440h4v1h-4zM42 440h4v1h-4zM159 440h2v1h-2zM240 440h1v1h-1zM618 440h4v1h-4zM783 440h2v1h-2zM26 441h4v1h-4zM46 441h4v1h-4zM157 441h2v1h-2zM241 441h2v1h-2zM422 441h20v1h-20zM614 441h4v1h-4zM785 441h2v1h-2zM23 442h3v1h-3zM50 442h4v1h-4zM154 442h3v1h-3zM243 442h2v1h-2zM418 442h4v1h-4zM442 442h8v1h-8zM606 442h8v1h-8zM787 442h3v1h-3zM21 443h2v1h-2zM54 443h4v1h-4zM151 443h3v1h-3zM245 443h2v1h-2zM415 443h3v1h-3zM450 443h12v1h-12zM602 443h4v1h-4zM790 443h3v1h-3zM19 444h2v1h-2zM58 444h3v1h-3zM149 444h2v1h-2zM247 444h2v1h-2zM413 444h2v1h-2zM462 444h28v1h-28zM598 444h4v1h-4zM793 444h2v1h-2zM17 445h2v1h-2zM61 445h2v1h-2zM146 445h3v1h-3zM249 445h2v1h-2zM410 445h3v1h-3zM490 445h8v1h-8zM594 445h4v1h-4zM795 445h2v1h-2zM15 446h2v1h-2zM63 446h3v1h-3zM143 446h3v1h-3zM251 446h2v1h-2zM407 446h3v1h-3zM498 446h3v1h-3zM586 446h8v1h-8zM797 446h2v1h-2zM13 447h2v1h-2zM66 447h4v1h-4zM141 447h2v1h-2zM253 447h2v1h-2zM405 447h2v1h-2zM501 447h2v1h-2zM582 447h4v1h-4zM799 447h2v1h-2zM12 448h1v1h-1zM70 448h3v1h-3zM138 448h3v1h-3zM255 448h2v1h-2zM403 448h2v1h-2zM503 448h3v1h-3zM578 448h4v1h-4zM801 448h2v1h-2zM10 449h2v1h-2zM73 449h2v1h-2zM134 449h4v1h-4zM257 449h2v1h-2zM401 449h2v1h-2zM506 449h3v1h-3zM574 449h4v1h-4zM803 449h2v1h-2zM9 450h1v1h-1zM75 450h3v1h-3zM130 450h4v1h-4zM259 450h2v1h-2zM398 450h3v1h-3zM509 450h2v1h-2zM570 450h4v1h-4zM805 450h1v1h-1zM8 451h1v1h-1zM78 451h4v1h-4zM126 451h4v1h-4zM261 451h2v1h-2zM394 451h4v1h-4zM511 451h2v1h-2zM566 451h4v1h-4zM806 451h2v1h-2zM6 452h2v1h-2zM82 452h8v1h-8zM122 452h4v1h-4zM263 452h3v1h-3zM391 452h3v1h-3zM513 452h2v1h-2zM562 452h4v1h-4zM808 452h1v1h-1zM5 453h1v1h-1zM90 453h4v1h-4zM114 453h8v1h-8zM266 453h3v1h-3zM389 453h2v1h-2zM515 453h3v1h-3zM558 453h4v1h-4zM809 453h1v1h-1zM4 454h1v1h-1zM94 454h20v1h-20zM269 454h2v1h-2zM386 454h3v1h-3zM518 454h4v1h-4zM554 454h4v1h-4zM810 454h2v1h-2zM271 455h3v1h-3zM383 455h3v1h-3zM522 455h4v1h-4zM550 455h4v1h-4zM812 455h1v1h-1zM274 456h3v1h-3zM381 456h2v1h-2zM526 456h4v1h-4zM546 456h4v1h-4zM813 456h2v1h-2zM277 457h2v1h-2zM378 457h3v1h-3zM530 457h4v1h-4zM542 457h4v1h-4zM815 457h2v1h-2zM279 458h3v1h-3zM374 458h4v1h-4zM534 458h8v1h-8zM817 458h1v1h-1zM282 459h4v1h-4zM370 459h4v1h-4zM818 459h2v1h-2zM922 459h2v1h-2zM286 460h3v1h-3zM366 460h4v1h-4zM820 460h1v1h-1zM921 460h1v1h-1zM289 461h2v1h-2zM363 461h3v1h-3zM821 461h1v1h-1zM920 461h1v1h-1zM291 462h3v1h-3zM361 462h2v1h-2zM822 462h1v1h-1zM918 462h2v1h-2zM294 463h4v1h-4zM359 463h2v1h-2zM823 463h1v1h-1zM917 463h1v1h-1zM298 464h4v1h-4zM357 464h2v1h-2zM824 464h1v1h-1zM916 464h1v1h-1zM302 465h4v1h-4zM355 465h2v1h-2zM825 465h1v1h-1zM914 465h2v1h-2zM306 466h4v1h-4zM353 466h2v1h-2zM826 466h2v1h-2zM913 466h1v1h-1zM310 467h3v1h-3zM351 467h2v1h-2zM828 467h1v1h-1zM912 467h1v1h-1zM313 468h2v1h-2zM349 468h2v1h-2zM829 468h1v1h-1zM910 468h2v1h-2zM315 469h3v1h-3zM346 469h3v1h-3zM830 469h2v1h-2zM909 469h1v1h-1zM318 470h4v1h-4zM342 470h4v1h-4zM832 470h1v1h-1zM908 470h1v1h-1zM322 471h8v1h-8zM334 471h8v1h-8zM833 471h2v1h-2zM906 471h2v1h-2zM330 472h4v1h-4zM835 472h3v1h-3zM905 472h1v1h-1zM838 473h4v1h-4zM903 473h2v1h-2zM842 474h4v1h-4zM901 474h2v1h-2zM846 475h8v1h-8zM899 475h2v1h-2zM854 476h4v1h-4zM897 476h2v1h-2zM858 477h8v1h-8zM895 477h2v1h-2zM866 478h4v1h-4zM893 478h2v1h-2zM870 479h4v1h-4zM890 479h3v1h-3zM874 480h8v1h-8zM886 480h4v1h-4zM882 481h4v1h-4z" fill="#ff0000" shape-rendering="crispEdges"/>
<g font-family="Liberation Sans" shape-rendering="crispEdges">
<text x="8" y="429" font-size="9.8" fill="#000" textLength="154" lengthAdjust="spacingAndGlyphs">MACD(12,26,9) -0.000016 -0.003546</text>
<rect x="1167" y="418" width="2" height="1" fill="#000"/>
<rect x="1167" y="446" width="2" height="1" fill="#000"/>
<rect x="1167" y="487" width="2" height="1" fill="#000"/>
<text x="1170" y="427" font-size="9.8" fill="#000" textLength="41" lengthAdjust="spacingAndGlyphs">0.008197</text>
<text x="1170" y="450" font-size="9.8" fill="#000" textLength="18" lengthAdjust="spacingAndGlyphs">0.00</text>
<text x="1170" y="485" font-size="9.8" fill="#000" textLength="37.5" lengthAdjust="spacingAndGlyphs">-0.01212</text>
</g>
<g shape-rendering="crispEdges">
<line x1="5" y1="513.5" x2="1166" y2="513.5" stroke="#c0c0c0" stroke-width="1" stroke-dasharray="3,3"/>
<line x1="5" y1="542.5" x2="1166" y2="542.5" stroke="#c0c0c0" stroke-width="1" stroke-dasharray="3,3"/>
</g>
<path d="M163 512h2v1h-2zM161 513h2v1h-2zM165 513h1v1h-1zM160 514h1v1h-1zM165 514h1v1h-1zM630 514h3v1h-3zM735 514h2v1h-2zM159 515h1v1h-1zM166 515h1v1h-1zM182 515h3v1h-3zM191 515h6v1h-6zM627 515h3v1h-3zM633 515h1v1h-1zM698 515h4v1h-4zM733 515h2v1h-2zM737 515h1v1h-1zM158 516h1v1h-1zM166 516h1v1h-1zM179 516h3v1h-3zM185 516h2v1h-2zM189 516h2v1h-2zM197 516h2v1h-2zM202 516h3v1h-3zM625 516h2v1h-2zM633 516h1v1h-1zM691 516h7v1h-7zM702 516h3v1h-3zM732 516h1v1h-1zM737 516h1v1h-1zM4 517h1v1h-1zM146 517h7v1h-7zM158 517h1v1h-1zM167 517h1v1h-1zM177 517h2v1h-2zM187 517h2v1h-2zM199 517h3v1h-3zM204 517h1v1h-1zM623 517h2v1h-2zM634 517h1v1h-1zM689 517h2v1h-2zM705 517h2v1h-2zM710 517h4v1h-4zM731 517h1v1h-1zM738 517h1v1h-1zM5 518h2v1h-2zM143 518h3v1h-3zM153 518h2v1h-2zM157 518h1v1h-1zM167 518h1v1h-1zM170 518h7v1h-7zM205 518h1v1h-1zM621 518h2v1h-2zM634 518h1v1h-1zM688 518h1v1h-1zM707 518h3v1h-3zM714 518h4v1h-4zM730 518h1v1h-1zM738 518h1v1h-1zM7 519h6v1h-6zM141 519h2v1h-2zM155 519h2v1h-2zM168 519h2v1h-2zM205 519h1v1h-1zM619 519h2v1h-2zM635 519h1v1h-1zM686 519h2v1h-2zM718 519h8v1h-8zM729 519h1v1h-1zM739 519h1v1h-1zM13 520h1v1h-1zM140 520h1v1h-1zM205 520h1v1h-1zM404 520h1v1h-1zM411 520h6v1h-6zM617 520h2v1h-2zM635 520h1v1h-1zM647 520h2v1h-2zM674 520h8v1h-8zM685 520h1v1h-1zM726 520h3v1h-3zM739 520h1v1h-1zM14 521h1v1h-1zM139 521h1v1h-1zM206 521h1v1h-1zM402 521h2v1h-2zM405 521h2v1h-2zM409 521h2v1h-2zM416 521h1v1h-1zM452 521h5v1h-5zM592 521h5v1h-5zM614 521h3v1h-3zM636 521h1v1h-1zM645 521h2v1h-2zM649 521h1v1h-1zM672 521h2v1h-2zM682 521h3v1h-3zM740 521h1v1h-1zM923 521h1v1h-1zM14 522h1v1h-1zM132 522h1v1h-1zM138 522h1v1h-1zM206 522h1v1h-1zM383 522h3v1h-3zM394 522h4v1h-4zM401 522h1v1h-1zM407 522h2v1h-2zM417 522h1v1h-1zM451 522h1v1h-1zM457 522h1v1h-1zM591 522h1v1h-1zM597 522h1v1h-1zM604 522h1v1h-1zM612 522h2v1h-2zM637 522h1v1h-1zM644 522h1v1h-1zM650 522h1v1h-1zM671 522h1v1h-1zM740 522h1v1h-1zM921 522h2v1h-2zM15 523h1v1h-1zM131 523h1v1h-1zM133 523h2v1h-2zM137 523h1v1h-1zM206 523h1v1h-1zM381 523h2v1h-2zM386 523h8v1h-8zM398 523h3v1h-3zM417 523h1v1h-1zM451 523h1v1h-1zM457 523h1v1h-1zM590 523h1v1h-1zM597 523h1v1h-1zM603 523h1v1h-1zM605 523h1v1h-1zM611 523h1v1h-1zM638 523h1v1h-1zM643 523h1v1h-1zM650 523h1v1h-1zM670 523h1v1h-1zM741 523h1v1h-1zM916 523h5v1h-5zM16 524h1v1h-1zM131 524h1v1h-1zM135 524h2v1h-2zM207 524h1v1h-1zM212 524h1v1h-1zM380 524h1v1h-1zM418 524h1v1h-1zM450 524h1v1h-1zM458 524h1v1h-1zM572 524h9v1h-9zM589 524h1v1h-1zM598 524h1v1h-1zM603 524h1v1h-1zM606 524h1v1h-1zM610 524h1v1h-1zM638 524h1v1h-1zM642 524h1v1h-1zM651 524h1v1h-1zM670 524h1v1h-1zM742 524h2v1h-2zM915 524h1v1h-1zM17 525h1v1h-1zM120 525h5v1h-5zM130 525h1v1h-1zM207 525h1v1h-1zM211 525h1v1h-1zM213 525h1v1h-1zM379 525h1v1h-1zM418 525h1v1h-1zM424 525h1v1h-1zM449 525h1v1h-1zM458 525h1v1h-1zM547 525h3v1h-3zM570 525h2v1h-2zM581 525h2v1h-2zM586 525h3v1h-3zM598 525h1v1h-1zM602 525h1v1h-1zM606 525h1v1h-1zM610 525h1v1h-1zM639 525h1v1h-1zM641 525h1v1h-1zM652 525h5v1h-5zM669 525h1v1h-1zM744 525h2v1h-2zM914 525h1v1h-1zM18 526h2v1h-2zM22 526h4v1h-4zM30 526h7v1h-7zM118 526h2v1h-2zM125 526h1v1h-1zM129 526h1v1h-1zM207 526h1v1h-1zM210 526h1v1h-1zM213 526h1v1h-1zM378 526h1v1h-1zM419 526h1v1h-1zM423 526h1v1h-1zM425 526h2v1h-2zM449 526h1v1h-1zM459 526h1v1h-1zM545 526h2v1h-2zM550 526h3v1h-3zM569 526h1v1h-1zM583 526h3v1h-3zM599 526h1v1h-1zM601 526h1v1h-1zM607 526h1v1h-1zM609 526h1v1h-1zM640 526h1v1h-1zM657 526h1v1h-1zM668 526h1v1h-1zM746 526h4v1h-4zM788 526h1v1h-1zM913 526h1v1h-1zM20 527h2v1h-2zM26 527h4v1h-4zM37 527h1v1h-1zM107 527h3v1h-3zM117 527h1v1h-1zM126 527h2v1h-2zM129 527h1v1h-1zM208 527h2v1h-2zM214 527h1v1h-1zM378 527h1v1h-1zM419 527h1v1h-1zM422 527h1v1h-1zM427 527h2v1h-2zM448 527h1v1h-1zM459 527h1v1h-1zM462 527h4v1h-4zM476 527h2v1h-2zM543 527h2v1h-2zM553 527h1v1h-1zM567 527h2v1h-2zM599 527h1v1h-1zM601 527h1v1h-1zM608 527h1v1h-1zM657 527h1v1h-1zM667 527h1v1h-1zM750 527h3v1h-3zM760 527h5v1h-5zM787 527h1v1h-1zM789 527h1v1h-1zM902 527h4v1h-4zM910 527h3v1h-3zM38 528h1v1h-1zM105 528h2v1h-2zM110 528h7v1h-7zM128 528h1v1h-1zM208 528h1v1h-1zM214 528h1v1h-1zM358 528h3v1h-3zM377 528h1v1h-1zM420 528h2v1h-2zM429 528h1v1h-1zM446 528h2v1h-2zM460 528h2v1h-2zM466 528h3v1h-3zM475 528h1v1h-1zM478 528h3v1h-3zM527 528h2v1h-2zM541 528h2v1h-2zM554 528h2v1h-2zM558 528h4v1h-4zM565 528h2v1h-2zM600 528h1v1h-1zM658 528h1v1h-1zM667 528h1v1h-1zM753 528h1v1h-1zM758 528h2v1h-2zM765 528h1v1h-1zM786 528h1v1h-1zM789 528h1v1h-1zM898 528h4v1h-4zM906 528h4v1h-4zM38 529h1v1h-1zM43 529h2v1h-2zM102 529h3v1h-3zM215 529h1v1h-1zM227 529h2v1h-2zM356 529h2v1h-2zM361 529h1v1h-1zM376 529h1v1h-1zM420 529h1v1h-1zM430 529h1v1h-1zM445 529h1v1h-1zM469 529h1v1h-1zM474 529h1v1h-1zM481 529h1v1h-1zM520 529h2v1h-2zM525 529h2v1h-2zM529 529h1v1h-1zM540 529h1v1h-1zM556 529h2v1h-2zM562 529h3v1h-3zM658 529h1v1h-1zM666 529h1v1h-1zM754 529h2v1h-2zM757 529h1v1h-1zM766 529h1v1h-1zM786 529h1v1h-1zM790 529h1v1h-1zM836 529h1v1h-1zM896 529h2v1h-2zM39 530h1v1h-1zM41 530h2v1h-2zM45 530h1v1h-1zM72 530h1v1h-1zM83 530h2v1h-2zM100 530h2v1h-2zM215 530h1v1h-1zM225 530h2v1h-2zM229 530h1v1h-1zM332 530h1v1h-1zM339 530h6v1h-6zM355 530h1v1h-1zM362 530h2v1h-2zM375 530h1v1h-1zM430 530h1v1h-1zM435 530h10v1h-10zM470 530h2v1h-2zM473 530h1v1h-1zM482 530h2v1h-2zM486 530h3v1h-3zM519 530h1v1h-1zM522 530h3v1h-3zM530 530h1v1h-1zM539 530h1v1h-1zM659 530h1v1h-1zM665 530h1v1h-1zM756 530h1v1h-1zM767 530h1v1h-1zM785 530h1v1h-1zM790 530h1v1h-1zM836 530h2v1h-2zM894 530h2v1h-2zM40 531h1v1h-1zM46 531h1v1h-1zM72 531h2v1h-2zM81 531h2v1h-2zM85 531h1v1h-1zM98 531h2v1h-2zM216 531h2v1h-2zM222 531h3v1h-3zM230 531h1v1h-1zM331 531h1v1h-1zM333 531h2v1h-2zM337 531h2v1h-2zM345 531h1v1h-1zM355 531h1v1h-1zM364 531h1v1h-1zM374 531h1v1h-1zM431 531h1v1h-1zM433 531h2v1h-2zM472 531h1v1h-1zM484 531h2v1h-2zM489 531h1v1h-1zM519 531h1v1h-1zM530 531h1v1h-1zM538 531h1v1h-1zM659 531h1v1h-1zM665 531h1v1h-1zM768 531h2v1h-2zM784 531h1v1h-1zM791 531h1v1h-1zM835 531h1v1h-1zM837 531h1v1h-1zM888 531h2v1h-2zM893 531h1v1h-1zM47 532h1v1h-1zM71 532h1v1h-1zM74 532h1v1h-1zM79 532h2v1h-2zM86 532h1v1h-1zM97 532h1v1h-1zM218 532h4v1h-4zM231 532h1v1h-1zM330 532h1v1h-1zM335 532h2v1h-2zM346 532h2v1h-2zM354 532h1v1h-1zM365 532h2v1h-2zM374 532h1v1h-1zM432 532h1v1h-1zM490 532h2v1h-2zM518 532h1v1h-1zM531 532h1v1h-1zM537 532h1v1h-1zM660 532h5v1h-5zM770 532h7v1h-7zM783 532h1v1h-1zM791 532h1v1h-1zM835 532h1v1h-1zM838 532h1v1h-1zM880 532h1v1h-1zM887 532h1v1h-1zM890 532h3v1h-3zM48 533h1v1h-1zM71 533h1v1h-1zM75 533h1v1h-1zM77 533h2v1h-2zM87 533h1v1h-1zM96 533h1v1h-1zM232 533h1v1h-1zM250 533h3v1h-3zM329 533h1v1h-1zM348 533h1v1h-1zM353 533h1v1h-1zM367 533h3v1h-3zM373 533h1v1h-1zM492 533h5v1h-5zM517 533h1v1h-1zM532 533h5v1h-5zM777 533h1v1h-1zM782 533h1v1h-1zM792 533h1v1h-1zM835 533h1v1h-1zM838 533h1v1h-1zM879 533h1v1h-1zM881 533h1v1h-1zM886 533h1v1h-1zM49 534h2v1h-2zM70 534h1v1h-1zM76 534h1v1h-1zM88 534h1v1h-1zM95 534h1v1h-1zM233 534h1v1h-1zM246 534h4v1h-4zM253 534h1v1h-1zM328 534h1v1h-1zM349 534h2v1h-2zM353 534h1v1h-1zM370 534h3v1h-3zM497 534h1v1h-1zM517 534h1v1h-1zM778 534h2v1h-2zM781 534h1v1h-1zM793 534h1v1h-1zM834 534h1v1h-1zM839 534h1v1h-1zM878 534h1v1h-1zM882 534h1v1h-1zM886 534h1v1h-1zM51 535h7v1h-7zM70 535h1v1h-1zM89 535h1v1h-1zM95 535h1v1h-1zM234 535h2v1h-2zM244 535h2v1h-2zM254 535h1v1h-1zM328 535h1v1h-1zM351 535h2v1h-2zM498 535h2v1h-2zM516 535h1v1h-1zM780 535h1v1h-1zM793 535h1v1h-1zM834 535h1v1h-1zM839 535h1v1h-1zM877 535h1v1h-1zM883 535h1v1h-1zM885 535h1v1h-1zM58 536h3v1h-3zM69 536h1v1h-1zM90 536h1v1h-1zM94 536h1v1h-1zM236 536h1v1h-1zM243 536h1v1h-1zM255 536h1v1h-1zM327 536h1v1h-1zM500 536h1v1h-1zM516 536h1v1h-1zM794 536h1v1h-1zM834 536h1v1h-1zM840 536h2v1h-2zM875 536h2v1h-2zM884 536h1v1h-1zM61 537h2v1h-2zM69 537h1v1h-1zM90 537h1v1h-1zM93 537h1v1h-1zM237 537h1v1h-1zM242 537h1v1h-1zM256 537h1v1h-1zM327 537h1v1h-1zM501 537h1v1h-1zM515 537h1v1h-1zM794 537h1v1h-1zM833 537h1v1h-1zM842 537h3v1h-3zM873 537h2v1h-2zM63 538h6v1h-6zM91 538h1v1h-1zM93 538h1v1h-1zM238 538h2v1h-2zM241 538h1v1h-1zM257 538h2v1h-2zM262 538h3v1h-3zM326 538h1v1h-1zM501 538h1v1h-1zM515 538h1v1h-1zM795 538h1v1h-1zM833 538h1v1h-1zM845 538h2v1h-2zM871 538h2v1h-2zM92 539h1v1h-1zM240 539h1v1h-1zM259 539h3v1h-3zM265 539h1v1h-1zM326 539h1v1h-1zM502 539h1v1h-1zM514 539h1v1h-1zM795 539h1v1h-1zM833 539h1v1h-1zM847 539h2v1h-2zM869 539h2v1h-2zM266 540h2v1h-2zM325 540h1v1h-1zM503 540h1v1h-1zM514 540h1v1h-1zM796 540h5v1h-5zM832 540h1v1h-1zM849 540h1v1h-1zM868 540h1v1h-1zM268 541h13v1h-13zM325 541h1v1h-1zM503 541h1v1h-1zM513 541h1v1h-1zM801 541h2v1h-2zM832 541h1v1h-1zM850 541h2v1h-2zM867 541h1v1h-1zM281 542h2v1h-2zM324 542h1v1h-1zM504 542h1v1h-1zM513 542h1v1h-1zM803 542h2v1h-2zM831 542h1v1h-1zM852 542h2v1h-2zM866 542h1v1h-1zM283 543h2v1h-2zM298 543h3v1h-3zM324 543h1v1h-1zM505 543h1v1h-1zM511 543h2v1h-2zM805 543h2v1h-2zM831 543h1v1h-1zM854 543h7v1h-7zM866 543h1v1h-1zM285 544h2v1h-2zM296 544h2v1h-2zM301 544h2v1h-2zM323 544h1v1h-1zM506 544h2v1h-2zM509 544h2v1h-2zM807 544h7v1h-7zM830 544h1v1h-1zM861 544h2v1h-2zM865 544h1v1h-1zM287 545h2v1h-2zM295 545h1v1h-1zM303 545h3v1h-3zM322 545h1v1h-1zM508 545h1v1h-1zM814 545h4v1h-4zM829 545h1v1h-1zM863 545h2v1h-2zM289 546h1v1h-1zM294 546h1v1h-1zM306 546h4v1h-4zM322 546h1v1h-1zM818 546h4v1h-4zM829 546h1v1h-1zM290 547h2v1h-2zM293 547h1v1h-1zM310 547h3v1h-3zM321 547h1v1h-1zM822 547h7v1h-7zM292 548h1v1h-1zM313 548h1v1h-1zM320 548h1v1h-1zM314 549h1v1h-1zM318 549h2v1h-2zM315 550h1v1h-1zM317 550h1v1h-1zM316 551h1v1h-1z" fill="#1e90ff" shape-rendering="crispEdges"/>
<g font-family="Liberation Sans" shape-rendering="crispEdges">
<text x="8.3" y="503" font-size="9.8" fill="#000" textLength="67.3" lengthAdjust="spacingAndGlyphs">RSI(14) 59.1343</text>
<rect x="1167" y="492" width="2" height="1" fill="#000"/>
<rect x="1167" y="564" width="2" height="1" fill="#000"/>
<text x="1170.5" y="501" font-size="9.8" fill="#000" textLength="14" lengthAdjust="spacingAndGlyphs">100</text>
<text x="1169.2" y="517" font-size="9.8" fill="#000" textLength="9.8" lengthAdjust="spacingAndGlyphs">70</text>
<text x="1169.2" y="546" font-size="9.8" fill="#000" textLength="9.8" lengthAdjust="spacingAndGlyphs">30</text>
<text x="1170" y="561" font-size="9.8" fill="#000" textLength="4.6" lengthAdjust="spacingAndGlyphs">0</text>
</g>
<g font-family="Liberation Sans" shape-rendering="crispEdges">
<rect x="4" y="565" width="1" height="3" fill="#000"/>
<text x="3.2" y="577" font-size="9.8" fill="#000" textLength="46.5" lengthAdjust="spacingAndGlyphs">3 Sep 2021</text>
<rect x="68" y="565" width="1" height="3" fill="#000"/>
<text x="67.2" y="577" font-size="9.8" fill="#000" textLength="51" lengthAdjust="spacingAndGlyphs">22 Sep 2021</text>
<rect x="132" y="565" width="1" height="3" fill="#000"/>
<text x="131.2" y="577" font-size="9.8" fill="#000" textLength="49.7" lengthAdjust="spacingAndGlyphs">11 Oct 2021</text>
<rect x="196" y="565" width="1" height="3" fill="#000"/>
<text x="195.2" y="577" font-size="9.8" fill="#000" textLength="49.8" lengthAdjust="spacingAndGlyphs">29 Oct 2021</text>
<rect x="260" y="565" width="1" height="3" fill="#000"/>
<text x="259.2" y="577" font-size="9.8" fill="#000" textLength="51.9" lengthAdjust="spacingAndGlyphs">17 Nov 2021</text>
<rect x="324" y="565" width="1" height="3" fill="#000"/>
<text x="323.2" y="577" font-size="9.8" fill="#000" textLength="45.7" lengthAdjust="spacingAndGlyphs">6 Dec 2021</text>
<rect x="388" y="565" width="1" height="3" fill="#000"/>
<text x="387.2" y="577" font-size="9.8" fill="#000" textLength="50.6" lengthAdjust="spacingAndGlyphs">24 Dec 2021</text>
<rect x="452" y="565" width="1" height="3" fill="#000"/>
<text x="451.2" y="577" font-size="9.8" fill="#000" textLength="49" lengthAdjust="spacingAndGlyphs">12 Jan 2022</text>
<rect x="516" y="565" width="1" height="3" fill="#000"/>
<text x="515.2" y="577" font-size="9.8" fill="#000" textLength="49.3" lengthAdjust="spacingAndGlyphs">31 Jan 2022</text>
<rect x="580" y="565" width="1" height="3" fill="#000"/>
<text x="579.2" y="577" font-size="9.8" fill="#000" textLength="51.2" lengthAdjust="spacingAndGlyphs">18 Feb 2022</text>
<rect x="644" y="565" width="1" height="3" fill="#000"/>
<text x="643.2" y="577" font-size="9.8" fill="#000" textLength="46.5" lengthAdjust="spacingAndGlyphs">9 Mar 2022</text>
<rect x="708" y="565" width="1" height="3" fill="#000"/>
<text x="707.2" y="577" font-size="9.8" fill="#000" textLength="51.1" lengthAdjust="spacingAndGlyphs">28 Mar 2022</text>
<rect x="772" y="565" width="1" height="3" fill="#000"/>
<text x="771.2" y="577" font-size="9.8" fill="#000" textLength="49.8" lengthAdjust="spacingAndGlyphs">15 Apr 2022</text>
<rect x="836" y="565" width="1" height="3" fill="#000"/>
<text x="835.2" y="577" font-size="9.8" fill="#000" textLength="49.8" lengthAdjust="spacingAndGlyphs">4 May 2022</text>
<rect x="900" y="565" width="1" height="3" fill="#000"/>
<text x="899.2" y="577" font-size="9.8" fill="#000" textLength="54.7" lengthAdjust="spacingAndGlyphs">23 May 2022</text>
</g>
<rect x="0" y="585" width="1207" height="1" fill="#e8e8e8"/>
<rect x="0" y="587" width="1207" height="1" fill="#000"/>
<rect x="1" y="588" width="1207" height="19" fill="#f0f0f0"/>
<rect x="1" y="588" width="1207" height="1" fill="#ffffff"/>
<rect x="0" y="588" width="1" height="19" fill="#696969"/>
<rect x="0" y="607" width="1207" height="1" fill="#ffffff"/>
<rect x="0" y="608" width="1207" height="3" fill="#f0f0f0"/>
<rect x="213" y="586" width="108" height="19" fill="#ffffff"/>
<rect x="213" y="587" width="1" height="19" fill="#000"/>
<rect x="320" y="587" width="1" height="19" fill="#000"/>
<rect x="213" y="605" width="108" height="1" fill="#000"/>
<g font-family="Liberation Sans">
<text x="16.8" y="602" font-size="12" fill="#7a7a7a" textLength="77.5" lengthAdjust="spacingAndGlyphs">USDX,Weekly</text>
<text x="116" y="602" font-size="12" fill="#7a7a7a" textLength="85.5" lengthAdjust="spacingAndGlyphs">EURUSD-,Daily</text>
<text x="223" y="602" font-size="12" fill="#000" textLength="87" lengthAdjust="spacingAndGlyphs">AUDUSD-,Daily</text>
<text x="333" y="602" font-size="12" fill="#7a7a7a" textLength="84.5" lengthAdjust="spacingAndGlyphs">USDCHF-,Daily</text>
<text x="440" y="602" font-size="12" fill="#7a7a7a" textLength="86" lengthAdjust="spacingAndGlyphs">USDCAD-,Daily</text>
<text x="548" y="602" font-size="12" fill="#7a7a7a" textLength="89" lengthAdjust="spacingAndGlyphs">USDCNH-,Daily</text>
<text x="660" y="602" font-size="12" fill="#7a7a7a" textLength="75" lengthAdjust="spacingAndGlyphs">XAUUSD-,H4</text>
<text x="756" y="602" font-size="12" fill="#7a7a7a" textLength="57" lengthAdjust="spacingAndGlyphs">UKOil-,H4</text>
<text x="836" y="602" font-size="12" fill="#7a7a7a" textLength="78" lengthAdjust="spacingAndGlyphs">DJ30-,Weekly</text>
<text x="936" y="602" font-size="12" fill="#7a7a7a" textLength="62" lengthAdjust="spacingAndGlyphs">UK100-,H1</text>
<text x="1021" y="602" font-size="12" fill="#7a7a7a" textLength="68" lengthAdjust="spacingAndGlyphs">USOil-,Daily</text>
<text x="1111" y="602" font-size="12" fill="#7a7a7a" textLength="54" lengthAdjust="spacingAndGlyphs">HK50-,H1</text>
</g>
<rect x="105" y="591" width="1" height="13" fill="#7a7a7a"/>
<rect x="428" y="591" width="1" height="13" fill="#7a7a7a"/>
<rect x="537" y="591" width="1" height="13" fill="#7a7a7a"/>
<rect x="648" y="591" width="1" height="13" fill="#7a7a7a"/>
<rect x="745" y="591" width="1" height="13" fill="#7a7a7a"/>
<rect x="825" y="591" width="1" height="13" fill="#7a7a7a"/>
<rect x="925" y="591" width="1" height="13" fill="#7a7a7a"/>
<rect x="1010" y="591" width="1" height="13" fill="#7a7a7a"/>
<rect x="1101" y="591" width="1" height="13" fill="#7a7a7a"/>
<polygon points="1185.5,593 1185.5,599 1182,596" fill="#a0a0a0"/>
<polygon points="1200.5,593 1200.5,599 1204,596" fill="#000"/></svg>
</body></html>
